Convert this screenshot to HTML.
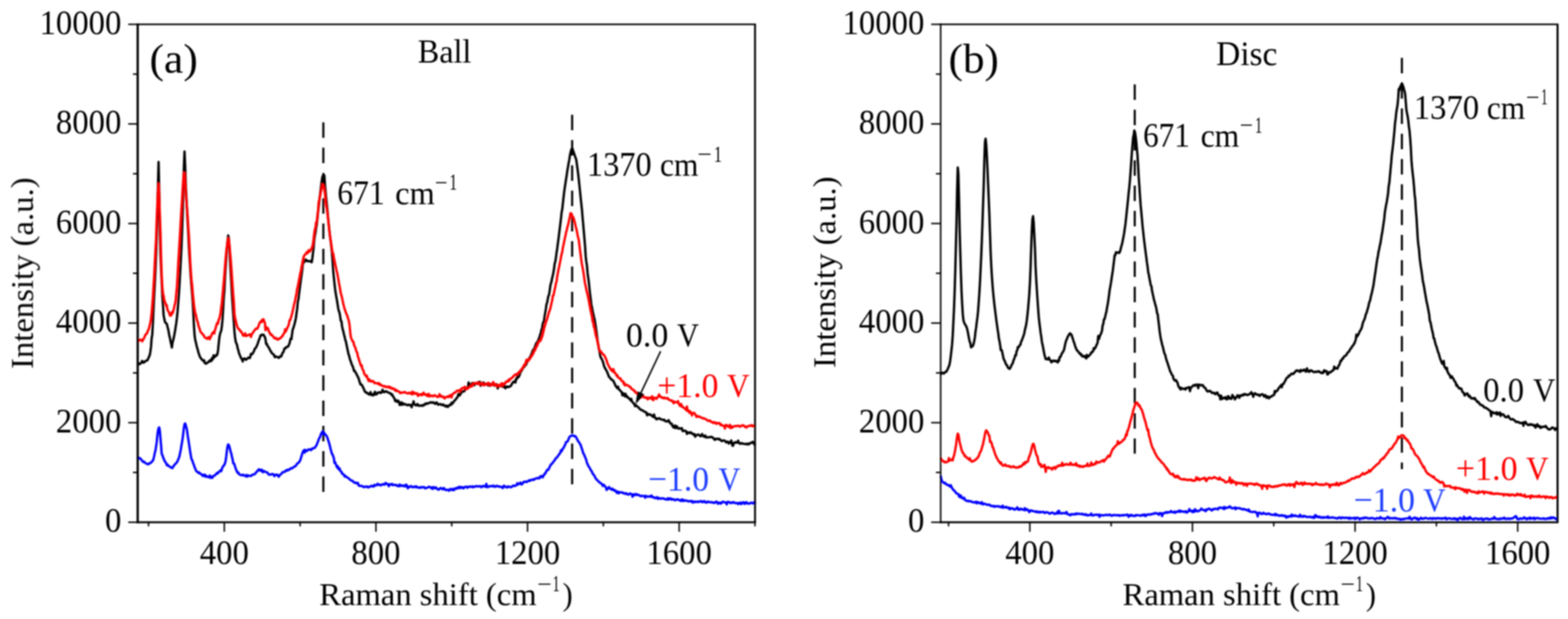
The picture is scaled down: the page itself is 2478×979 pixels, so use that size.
<!DOCTYPE html>
<html><head><meta charset="utf-8"><style>html,body{margin:0;padding:0;background:#fff;overflow:hidden}svg{display:block}</style></head><body>
<svg width="2478" height="979" viewBox="0 0 2478 979" font-family="'Liberation Serif','Times New Roman',serif" font-size="51.7" fill="#000">
<defs><filter id="bl" x="0" y="0" width="100%" height="100%" filterUnits="userSpaceOnUse"><feGaussianBlur stdDeviation="0.8"/></filter></defs>
<rect width="100%" height="100%" fill="#fff"/>
<g filter="url(#bl)">
<line x1="511.0" y1="193.5" x2="511.0" y2="779" stroke="#000" stroke-width="3.3" stroke-dasharray="24.5 15.5"/>
<line x1="904.2" y1="181.6" x2="904.2" y2="766" stroke="#000" stroke-width="3.3" stroke-dasharray="24.5 15.5"/>
<line x1="1793.3" y1="133.6" x2="1793.3" y2="717.6" stroke="#000" stroke-width="3.3" stroke-dasharray="24.5 15.5"/>
<line x1="2215.5" y1="91.6" x2="2215.5" y2="742" stroke="#000" stroke-width="3.3" stroke-dasharray="24.5 15.5"/>
<path d="M217.6,573.8 L218.6,575.0 L219.6,575.8 L220.6,576.1 L221.6,575.0 L222.6,574.2 L223.6,573.6 L224.6,570.8 L225.6,572.3 L226.6,573.6 L227.6,573.3 L228.6,572.0 L229.6,571.2 L230.6,570.7 L231.6,570.5 L232.6,570.0 L233.6,568.4 L234.6,566.2 L235.6,563.9 L236.6,561.9 L237.6,556.3 L238.6,549.2 L239.6,535.3 L240.6,529.7 L241.6,511.3 L242.6,489.1 L243.6,468.7 L244.6,450.0 L245.6,428.9 L246.6,404.5 L247.6,376.0 L248.6,341.9 L249.6,295.2 L250.6,256.2 L251.6,301.1 L252.6,365.1 L253.6,402.6 L254.6,425.1 L255.6,446.3 L256.6,468.8 L257.6,482.7 L258.6,498.8 L259.6,504.0 L260.6,508.5 L261.6,510.6 L262.6,511.1 L263.6,512.2 L264.6,516.4 L265.6,520.1 L266.6,525.0 L267.6,531.1 L268.6,534.7 L269.6,540.2 L270.6,544.4 L271.6,549.7 L272.6,542.1 L273.6,538.4 L274.6,534.3 L275.6,529.1 L276.6,523.7 L277.6,517.1 L278.6,510.6 L279.6,502.8 L280.6,492.7 L281.6,479.4 L282.6,466.6 L283.6,450.6 L284.6,432.6 L285.6,414.2 L286.6,394.7 L287.6,370.0 L288.6,339.6 L289.6,305.8 L290.6,264.6 L291.6,239.6 L292.6,261.9 L293.6,293.1 L294.6,313.1 L295.6,333.3 L296.6,352.6 L297.6,369.9 L298.6,392.4 L299.6,408.3 L300.6,424.9 L301.6,439.9 L302.6,451.9 L303.6,464.3 L304.6,477.3 L305.6,495.6 L306.6,517.0 L307.6,531.1 L308.6,538.0 L309.6,541.6 L310.6,546.4 L311.6,550.0 L312.6,553.5 L313.6,557.5 L314.6,560.4 L315.6,563.5 L316.6,565.4 L317.6,566.8 L318.6,568.0 L319.6,569.2 L320.6,570.2 L321.6,570.8 L322.6,569.8 L323.6,574.3 L324.6,574.2 L325.6,575.2 L326.6,574.5 L327.6,573.5 L328.6,573.4 L329.6,572.2 L330.6,571.0 L331.6,570.3 L332.6,571.5 L333.6,568.5 L334.6,570.4 L335.6,565.6 L336.6,567.8 L337.6,561.8 L338.6,565.2 L339.6,564.0 L340.6,563.4 L341.6,561.6 L342.6,562.1 L343.6,559.9 L344.6,554.0 L345.6,543.8 L346.6,534.4 L347.6,528.7 L348.6,525.5 L349.6,522.8 L350.6,516.4 L351.6,505.6 L352.6,489.5 L353.6,471.4 L354.6,460.2 L355.6,438.9 L356.6,422.2 L357.6,407.4 L358.6,391.9 L359.6,381.6 L360.6,372.4 L361.6,376.8 L362.6,393.4 L363.6,413.4 L364.6,430.6 L365.6,447.5 L366.6,466.3 L367.6,481.5 L368.6,496.7 L369.6,509.5 L370.6,525.4 L371.6,534.9 L372.6,540.7 L373.6,543.4 L374.6,545.4 L375.6,550.9 L376.6,553.8 L377.6,558.1 L378.6,560.7 L379.6,563.1 L380.6,565.7 L381.6,567.3 L382.6,568.1 L383.6,571.7 L384.6,567.6 L385.6,567.0 L386.6,567.1 L387.6,567.7 L388.6,569.0 L389.6,568.2 L390.6,567.3 L391.6,566.6 L392.6,565.5 L393.6,566.1 L394.6,566.4 L395.6,564.3 L396.6,559.7 L397.6,560.4 L398.6,560.0 L399.6,558.5 L400.6,556.8 L401.6,554.7 L402.6,551.6 L403.6,550.8 L404.6,549.6 L405.6,547.5 L406.6,545.2 L407.6,542.6 L408.6,539.3 L409.6,536.7 L410.6,534.5 L411.6,530.8 L412.6,530.1 L413.6,529.3 L414.6,530.1 L415.6,529.3 L416.6,529.6 L417.6,531.3 L418.6,533.1 L419.6,536.8 L420.6,544.0 L421.6,543.6 L422.6,546.7 L423.6,547.9 L424.6,549.6 L425.6,551.4 L426.6,553.2 L427.6,555.4 L428.6,556.4 L429.6,558.5 L430.6,559.5 L431.6,559.9 L432.6,560.8 L433.6,563.2 L434.6,565.0 L435.6,563.6 L436.6,564.3 L437.6,564.5 L438.6,564.7 L439.6,565.3 L440.6,566.1 L441.6,565.3 L442.6,563.7 L443.6,563.6 L444.6,563.6 L445.6,560.4 L446.6,558.0 L447.6,557.3 L448.6,554.5 L449.6,551.1 L450.6,551.2 L451.6,550.4 L452.6,548.8 L453.6,548.6 L454.6,548.5 L455.6,547.6 L456.6,545.1 L457.6,543.0 L458.6,538.0 L459.6,535.2 L460.6,536.4 L461.6,527.7 L462.6,521.2 L463.6,518.8 L464.6,515.5 L465.6,512.0 L466.6,507.8 L467.6,503.3 L468.6,495.4 L469.6,488.5 L470.6,477.1 L471.6,473.3 L472.6,464.6 L473.6,457.0 L474.6,449.5 L475.6,441.7 L476.6,434.4 L477.6,427.4 L478.6,416.4 L479.6,416.0 L480.6,414.3 L481.6,413.5 L482.6,410.3 L483.6,412.7 L484.6,411.6 L485.6,412.1 L486.6,413.4 L487.6,413.0 L488.6,413.0 L489.6,413.3 L490.6,413.6 L491.6,412.4 L492.6,414.8 L493.6,408.8 L494.6,400.0 L495.6,392.0 L496.6,379.3 L497.6,373.0 L498.6,367.4 L499.6,360.4 L500.6,354.8 L501.6,346.6 L502.6,335.2 L503.6,327.8 L504.6,317.9 L505.6,309.5 L506.6,301.1 L507.6,293.6 L508.6,285.5 L509.6,279.5 L510.6,277.7 L511.6,276.4 L512.6,277.9 L513.6,292.6 L514.6,303.8 L515.6,314.7 L516.6,324.2 L517.6,333.7 L518.6,345.8 L519.6,355.6 L520.6,365.5 L521.6,374.6 L522.6,381.2 L523.6,390.3 L524.6,399.9 L525.6,412.4 L526.6,428.3 L527.6,438.8 L528.6,448.5 L529.6,457.3 L530.6,464.2 L531.6,470.2 L532.6,475.4 L533.6,481.7 L534.6,488.1 L535.6,492.3 L536.6,494.7 L537.6,500.7 L538.6,507.5 L539.6,508.1 L540.6,516.1 L541.6,520.9 L542.6,524.2 L543.6,528.9 L544.6,532.7 L545.6,537.4 L546.6,540.0 L547.6,544.9 L548.6,549.8 L549.6,554.5 L550.6,559.3 L551.6,562.3 L552.6,566.3 L553.6,569.8 L554.6,572.3 L555.6,575.3 L556.6,577.9 L557.6,579.9 L558.6,583.0 L559.6,586.9 L560.6,586.5 L561.6,588.6 L562.6,589.9 L563.6,592.2 L564.6,594.0 L565.6,596.3 L566.6,598.0 L567.6,601.4 L568.6,604.6 L569.6,607.9 L570.6,607.7 L571.6,609.0 L572.6,609.9 L573.6,612.5 L574.6,614.3 L575.6,616.7 L576.6,619.4 L577.6,619.8 L578.6,621.1 L579.6,620.9 L580.6,622.2 L581.6,622.2 L582.6,623.6 L583.6,623.8 L584.6,623.7 L585.6,620.1 L586.6,624.8 L587.6,624.4 L588.6,624.2 L589.6,625.3 L590.6,622.6 L591.6,624.2 L592.6,619.6 L593.6,623.7 L594.6,623.6 L595.6,623.5 L596.6,621.6 L597.6,620.7 L598.6,620.8 L599.6,621.0 L600.6,620.3 L601.6,621.6 L602.6,620.9 L603.6,620.4 L604.6,616.3 L605.6,619.6 L606.6,620.2 L607.6,619.9 L608.6,619.9 L609.6,618.6 L610.6,619.5 L611.6,619.6 L612.6,620.2 L613.6,620.7 L614.6,621.3 L615.6,621.7 L616.6,621.9 L617.6,622.5 L618.6,624.5 L619.6,623.6 L620.6,626.0 L621.6,627.2 L622.6,629.3 L623.6,630.6 L624.6,634.5 L625.6,632.9 L626.6,633.7 L627.6,635.6 L628.6,633.5 L629.6,634.2 L630.6,635.3 L631.6,640.5 L632.6,638.7 L633.6,640.2 L634.6,636.4 L635.6,637.5 L636.6,640.2 L637.6,638.2 L638.6,639.2 L639.6,639.1 L640.6,639.7 L641.6,639.5 L642.6,640.5 L643.6,640.9 L644.6,640.4 L645.6,640.7 L646.6,640.0 L647.6,640.9 L648.6,640.7 L649.6,640.7 L650.6,644.2 L651.6,639.9 L652.6,639.3 L653.6,634.7 L654.6,639.3 L655.6,640.3 L656.6,640.3 L657.6,641.3 L658.6,640.9 L659.6,639.0 L660.6,640.2 L661.6,641.7 L662.6,641.5 L663.6,641.7 L664.6,641.3 L665.6,641.4 L666.6,641.0 L667.6,641.9 L668.6,641.2 L669.6,640.1 L670.6,640.6 L671.6,639.1 L672.6,638.2 L673.6,638.7 L674.6,638.0 L675.6,638.7 L676.6,637.8 L677.6,637.5 L678.6,637.2 L679.6,636.6 L680.6,636.1 L681.6,636.7 L682.6,636.9 L683.6,636.7 L684.6,636.2 L685.6,637.2 L686.6,637.9 L687.6,638.7 L688.6,637.7 L689.6,636.4 L690.6,637.1 L691.6,639.1 L692.6,640.0 L693.6,639.3 L694.6,639.4 L695.6,639.2 L696.6,639.2 L697.6,640.4 L698.6,640.7 L699.6,640.2 L700.6,639.7 L701.6,641.4 L702.6,641.4 L703.6,642.7 L704.6,642.7 L705.6,641.5 L706.6,643.2 L707.6,643.6 L708.6,642.6 L709.6,641.1 L710.6,640.5 L711.6,640.0 L712.6,640.5 L713.6,637.0 L714.6,638.5 L715.6,637.6 L716.6,636.2 L717.6,634.3 L718.6,633.6 L719.6,632.4 L720.6,631.2 L721.6,629.6 L722.6,628.8 L723.6,626.6 L724.6,622.8 L725.6,624.5 L726.6,625.3 L727.6,623.5 L728.6,621.6 L729.6,620.5 L730.6,619.9 L731.6,618.8 L732.6,619.0 L733.6,618.8 L734.6,616.8 L735.6,615.7 L736.6,615.6 L737.6,614.8 L738.6,612.7 L739.6,611.7 L740.6,604.8 L741.6,609.5 L742.6,611.5 L743.6,608.1 L744.6,610.5 L745.6,606.9 L746.6,605.6 L747.6,607.0 L748.6,606.3 L749.6,609.4 L750.6,607.0 L751.6,606.7 L752.6,605.8 L753.6,607.2 L754.6,606.7 L755.6,606.8 L756.6,604.2 L757.6,607.0 L758.6,604.0 L759.6,610.2 L760.6,607.3 L761.6,608.1 L762.6,606.3 L763.6,604.9 L764.6,605.5 L765.6,606.8 L766.6,606.9 L767.6,607.6 L768.6,607.2 L769.6,606.8 L770.6,609.2 L771.6,609.6 L772.6,608.9 L773.6,609.5 L774.6,610.0 L775.6,608.8 L776.6,607.2 L777.6,607.1 L778.6,608.2 L779.6,608.8 L780.6,609.5 L781.6,609.9 L782.6,609.1 L783.6,607.8 L784.6,607.6 L785.6,610.1 L786.6,614.4 L787.6,610.5 L788.6,610.6 L789.6,609.9 L790.6,610.6 L791.6,609.5 L792.6,609.5 L793.6,611.2 L794.6,611.6 L795.6,611.9 L796.6,612.1 L797.6,609.9 L798.6,614.2 L799.6,612.8 L800.6,612.1 L801.6,611.2 L802.6,612.3 L803.6,611.8 L804.6,611.8 L805.6,611.2 L806.6,611.0 L807.6,609.9 L808.6,607.9 L809.6,606.5 L810.6,604.4 L811.6,604.4 L812.6,603.5 L813.6,602.7 L814.6,605.0 L815.6,599.1 L816.6,599.5 L817.6,595.1 L818.6,596.7 L819.6,596.4 L820.6,594.3 L821.6,591.9 L822.6,588.5 L823.6,587.2 L824.6,585.9 L825.6,583.7 L826.6,582.1 L827.6,580.1 L828.6,580.2 L829.6,578.6 L830.6,577.4 L831.6,576.9 L832.6,571.7 L833.6,572.1 L834.6,569.7 L835.6,568.2 L836.6,566.6 L837.6,564.5 L838.6,563.2 L839.6,560.4 L840.6,558.2 L841.6,555.3 L842.6,553.1 L843.6,552.7 L844.6,550.9 L845.6,547.9 L846.6,545.1 L847.6,542.3 L848.6,541.8 L849.6,540.4 L850.6,538.0 L851.6,535.8 L852.6,532.9 L853.6,529.6 L854.6,526.9 L855.6,521.9 L856.6,519.8 L857.6,513.0 L858.6,509.4 L859.6,508.4 L860.6,500.8 L861.6,494.8 L862.6,489.0 L863.6,481.4 L864.6,478.8 L865.6,473.5 L866.6,468.4 L867.6,466.5 L868.6,460.5 L869.6,452.8 L870.6,448.1 L871.6,445.4 L872.6,439.6 L873.6,435.7 L874.6,431.0 L875.6,424.9 L876.6,416.9 L877.6,413.8 L878.6,407.2 L879.6,399.6 L880.6,393.1 L881.6,385.1 L882.6,377.9 L883.6,369.5 L884.6,361.4 L885.6,353.4 L886.6,345.0 L887.6,335.6 L888.6,330.7 L889.6,321.2 L890.6,312.3 L891.6,303.4 L892.6,296.5 L893.6,289.7 L894.6,283.4 L895.6,277.0 L896.6,269.9 L897.6,264.2 L898.6,258.3 L899.6,253.0 L900.6,246.5 L901.6,241.7 L902.6,237.5 L903.6,235.1 L904.6,234.7 L905.6,238.3 L906.6,240.7 L907.6,243.9 L908.6,246.7 L909.6,249.6 L910.6,252.4 L911.6,258.9 L912.6,266.6 L913.6,274.2 L914.6,282.8 L915.6,292.6 L916.6,302.1 L917.6,312.3 L918.6,321.8 L919.6,330.7 L920.6,343.1 L921.6,353.9 L922.6,365.5 L923.6,377.3 L924.6,388.8 L925.6,405.2 L926.6,414.0 L927.6,420.1 L928.6,432.0 L929.6,439.6 L930.6,446.8 L931.6,457.2 L932.6,466.1 L933.6,473.4 L934.6,482.4 L935.6,486.2 L936.6,492.6 L937.6,496.2 L938.6,500.9 L939.6,505.0 L940.6,510.8 L941.6,517.4 L942.6,524.5 L943.6,532.3 L944.6,540.6 L945.6,546.6 L946.6,552.3 L947.6,556.4 L948.6,562.6 L949.6,565.9 L950.6,567.0 L951.6,569.0 L952.6,571.6 L953.6,574.7 L954.6,578.8 L955.6,581.2 L956.6,583.1 L957.6,584.7 L958.6,586.6 L959.6,588.3 L960.6,591.2 L961.6,593.7 L962.6,596.3 L963.6,597.0 L964.6,598.0 L965.6,599.7 L966.6,600.4 L967.6,601.1 L968.6,601.7 L969.6,603.0 L970.6,605.1 L971.6,607.2 L972.6,609.7 L973.6,611.6 L974.6,612.3 L975.6,614.0 L976.6,611.4 L977.6,614.6 L978.6,616.5 L979.6,617.0 L980.6,618.1 L981.6,619.4 L982.6,620.6 L983.6,625.4 L984.6,621.7 L985.6,622.4 L986.6,624.1 L987.6,626.9 L988.6,622.9 L989.6,627.4 L990.6,626.6 L991.6,627.2 L992.6,629.4 L993.6,629.5 L994.6,630.3 L995.6,631.9 L996.6,633.2 L997.6,630.8 L998.6,634.9 L999.6,636.0 L1000.6,637.0 L1001.6,638.3 L1002.6,638.9 L1003.6,642.4 L1004.6,640.5 L1005.6,641.9 L1006.6,642.2 L1007.6,643.3 L1008.6,644.3 L1009.6,644.7 L1010.6,646.4 L1011.6,647.2 L1012.6,647.8 L1013.6,648.6 L1014.6,648.7 L1015.6,649.1 L1016.6,650.0 L1017.6,650.6 L1018.6,651.0 L1019.6,651.5 L1020.6,652.3 L1021.6,652.6 L1022.6,656.9 L1023.6,654.5 L1024.6,654.8 L1025.6,655.8 L1026.6,655.8 L1027.6,655.3 L1028.6,656.2 L1029.6,657.0 L1030.6,657.7 L1031.6,659.0 L1032.6,659.3 L1033.6,655.6 L1034.6,659.8 L1035.6,661.0 L1036.6,662.2 L1037.6,663.2 L1038.6,661.8 L1039.6,662.1 L1040.6,662.2 L1041.6,661.6 L1042.6,661.7 L1043.6,662.9 L1044.6,663.2 L1045.6,663.4 L1046.6,663.8 L1047.6,664.0 L1048.6,664.4 L1049.6,663.7 L1050.6,665.6 L1051.6,665.7 L1052.6,666.5 L1053.6,666.5 L1054.6,666.7 L1055.6,665.6 L1056.6,664.5 L1057.6,666.4 L1058.6,668.3 L1059.6,670.0 L1060.6,670.0 L1061.6,670.1 L1062.6,673.7 L1063.6,674.6 L1064.6,676.3 L1065.6,673.3 L1066.6,673.2 L1067.6,677.1 L1068.6,673.9 L1069.6,674.0 L1070.6,676.6 L1071.6,677.7 L1072.6,677.7 L1073.6,677.2 L1074.6,677.8 L1075.6,677.7 L1076.6,677.5 L1077.6,677.2 L1078.6,681.5 L1079.6,681.8 L1080.6,681.7 L1081.6,681.1 L1082.6,681.0 L1083.6,681.7 L1084.6,682.7 L1085.6,686.3 L1086.6,683.3 L1087.6,684.0 L1088.6,684.2 L1089.6,685.0 L1090.6,684.2 L1091.6,683.6 L1092.6,685.1 L1093.6,685.1 L1094.6,686.0 L1095.6,687.2 L1096.6,687.3 L1097.6,686.6 L1098.6,690.7 L1099.6,689.4 L1100.6,688.2 L1101.6,688.0 L1102.6,687.4 L1103.6,687.4 L1104.6,687.7 L1105.6,688.6 L1106.6,689.9 L1107.6,689.8 L1108.6,688.6 L1109.6,686.5 L1110.6,689.1 L1111.6,689.5 L1112.6,690.7 L1113.6,690.3 L1114.6,688.7 L1115.6,691.8 L1116.6,691.7 L1117.6,691.7 L1118.6,691.7 L1119.6,691.5 L1120.6,691.6 L1121.6,691.3 L1122.6,691.5 L1123.6,690.9 L1124.6,691.0 L1125.6,691.5 L1126.6,692.3 L1127.6,693.5 L1128.6,694.1 L1129.6,695.7 L1130.6,695.0 L1131.6,693.8 L1132.6,694.0 L1133.6,694.4 L1134.6,694.0 L1135.6,694.8 L1136.6,694.0 L1137.6,695.4 L1138.6,695.6 L1139.6,696.9 L1140.6,697.6 L1141.6,697.4 L1142.6,696.6 L1143.6,696.7 L1144.6,696.8 L1145.6,697.2 L1146.6,698.3 L1147.6,699.7 L1148.6,698.7 L1149.6,698.7 L1150.6,698.7 L1151.6,701.5 L1152.6,700.0 L1153.6,700.4 L1154.6,699.8 L1155.6,696.6 L1156.6,701.4 L1157.6,704.9 L1158.6,704.8 L1159.6,700.6 L1160.6,700.0 L1161.6,700.1 L1162.6,699.1 L1163.6,700.1 L1164.6,699.7 L1165.6,700.0 L1166.6,696.9 L1167.6,700.1 L1168.6,701.2 L1169.6,701.8 L1170.6,701.7 L1171.6,700.8 L1172.6,700.9 L1173.6,701.6 L1174.6,701.9 L1175.6,702.0 L1176.6,702.1 L1177.6,702.2 L1178.6,702.0 L1179.6,702.6 L1180.6,701.8 L1181.6,702.8 L1182.6,702.0 L1183.6,702.6 L1184.6,701.1 L1185.6,700.8 L1186.6,700.4 L1187.6,700.7 L1188.6,700.1 L1189.6,698.7 L1190.6,700.4 L1191.6,701.1 L1192.6,703.5 L1193.2,701.6" fill="none" stroke="#000" stroke-width="3.7" stroke-linejoin="round"/>
<path d="M217.6,539.1 L218.6,539.2 L219.6,538.9 L220.6,537.6 L221.6,537.4 L222.6,537.2 L223.6,537.5 L224.6,539.8 L225.6,538.2 L226.6,536.3 L227.6,534.9 L228.6,532.5 L229.6,530.0 L230.6,528.4 L231.6,528.1 L232.6,526.6 L233.6,523.2 L234.6,521.8 L235.6,518.6 L236.6,514.2 L237.6,510.1 L238.6,504.3 L239.6,495.1 L240.6,483.1 L241.6,470.5 L242.6,453.6 L243.6,437.0 L244.6,417.3 L245.6,396.9 L246.6,379.6 L247.6,349.8 L248.6,323.9 L249.6,302.9 L250.6,290.3 L251.6,308.5 L252.6,339.2 L253.6,366.6 L254.6,408.0 L255.6,437.4 L256.6,454.6 L257.6,464.4 L258.6,467.9 L259.6,474.4 L260.6,477.5 L261.6,479.5 L262.6,483.5 L263.6,482.7 L264.6,490.0 L265.6,491.6 L266.6,493.4 L267.6,495.2 L268.6,499.2 L269.6,499.0 L270.6,498.9 L271.6,493.5 L272.6,495.7 L273.6,492.7 L274.6,489.6 L275.6,484.0 L276.6,480.6 L277.6,475.1 L278.6,464.1 L279.6,454.5 L280.6,437.0 L281.6,417.8 L282.6,402.2 L283.6,384.9 L284.6,368.2 L285.6,350.5 L286.6,333.0 L287.6,317.5 L288.6,299.9 L289.6,283.8 L290.6,273.1 L291.6,273.5 L292.6,288.2 L293.6,305.8 L294.6,318.4 L295.6,330.1 L296.6,342.8 L297.6,359.1 L298.6,373.3 L299.6,391.9 L300.6,412.9 L301.6,428.7 L302.6,443.1 L303.6,450.5 L304.6,463.3 L305.6,473.3 L306.6,482.5 L307.6,489.9 L308.6,495.1 L309.6,497.8 L310.6,503.4 L311.6,507.6 L312.6,509.2 L313.6,515.0 L314.6,517.7 L315.6,520.6 L316.6,524.3 L317.6,525.8 L318.6,526.7 L319.6,527.6 L320.6,529.4 L321.6,529.8 L322.6,531.8 L323.6,533.6 L324.6,534.2 L325.6,534.7 L326.6,535.3 L327.6,535.9 L328.6,534.4 L329.6,533.0 L330.6,534.2 L331.6,536.5 L332.6,532.9 L333.6,532.4 L334.6,528.6 L335.6,527.6 L336.6,525.4 L337.6,526.8 L338.6,527.5 L339.6,522.2 L340.6,519.8 L341.6,515.7 L342.6,512.5 L343.6,510.3 L344.6,511.9 L345.6,505.4 L346.6,504.6 L347.6,499.7 L348.6,494.6 L349.6,486.2 L350.6,478.8 L351.6,468.3 L352.6,457.2 L353.6,445.9 L354.6,434.7 L355.6,421.0 L356.6,409.2 L357.6,397.7 L358.6,390.5 L359.6,382.0 L360.6,376.7 L361.6,378.5 L362.6,387.1 L363.6,398.8 L364.6,410.2 L365.6,423.2 L366.6,438.1 L367.6,452.2 L368.6,466.4 L369.6,478.0 L370.6,497.3 L371.6,503.4 L372.6,507.1 L373.6,511.7 L374.6,515.6 L375.6,518.4 L376.6,519.5 L377.6,520.6 L378.6,522.5 L379.6,522.4 L380.6,524.9 L381.6,524.8 L382.6,527.0 L383.6,529.3 L384.6,531.1 L385.6,529.5 L386.6,530.2 L387.6,527.2 L388.6,531.5 L389.6,531.4 L390.6,530.6 L391.6,530.3 L392.6,529.7 L393.6,529.6 L394.6,528.8 L395.6,528.8 L396.6,533.0 L397.6,529.3 L398.6,527.6 L399.6,526.7 L400.6,524.5 L401.6,523.4 L402.6,521.8 L403.6,520.9 L404.6,519.6 L405.6,519.6 L406.6,519.9 L407.6,518.0 L408.6,515.3 L409.6,512.4 L410.6,510.1 L411.6,509.3 L412.6,507.8 L413.6,509.4 L414.6,505.5 L415.6,505.2 L416.6,505.2 L417.6,508.9 L418.6,510.2 L419.6,522.4 L420.6,516.7 L421.6,519.7 L422.6,519.9 L423.6,519.3 L424.6,523.6 L425.6,525.1 L426.6,527.0 L427.6,529.3 L428.6,528.7 L429.6,529.8 L430.6,531.1 L431.6,532.1 L432.6,532.9 L433.6,535.2 L434.6,534.9 L435.6,534.6 L436.6,534.7 L437.6,536.8 L438.6,536.8 L439.6,537.1 L440.6,535.7 L441.6,535.8 L442.6,535.0 L443.6,534.5 L444.6,532.9 L445.6,532.8 L446.6,530.5 L447.6,529.7 L448.6,526.9 L449.6,526.6 L450.6,520.7 L451.6,524.2 L452.6,522.0 L453.6,519.7 L454.6,517.1 L455.6,515.8 L456.6,512.3 L457.6,506.4 L458.6,506.4 L459.6,502.9 L460.6,499.9 L461.6,496.0 L462.6,491.5 L463.6,487.5 L464.6,482.1 L465.6,478.3 L466.6,474.1 L467.6,468.9 L468.6,463.8 L469.6,456.4 L470.6,453.6 L471.6,447.8 L472.6,442.5 L473.6,437.3 L474.6,432.1 L475.6,427.6 L476.6,422.0 L477.6,417.4 L478.6,412.2 L479.6,407.4 L480.6,404.7 L481.6,403.0 L482.6,401.9 L483.6,401.7 L484.6,398.9 L485.6,400.7 L486.6,399.6 L487.6,395.9 L488.6,396.8 L489.6,397.9 L490.6,396.2 L491.6,393.7 L492.6,392.6 L493.6,390.0 L494.6,385.8 L495.6,377.8 L496.6,369.2 L497.6,362.8 L498.6,359.9 L499.6,351.3 L500.6,352.4 L501.6,341.0 L502.6,334.5 L503.6,319.7 L504.6,316.3 L505.6,311.5 L506.6,306.2 L507.6,300.9 L508.6,297.2 L509.6,291.3 L510.6,292.6 L511.6,294.5 L512.6,300.1 L513.6,307.0 L514.6,318.8 L515.6,326.2 L516.6,330.3 L517.6,338.7 L518.6,347.3 L519.6,357.0 L520.6,365.7 L521.6,373.3 L522.6,380.4 L523.6,386.5 L524.6,393.3 L525.6,399.9 L526.6,400.8 L527.6,407.5 L528.6,411.9 L529.6,416.8 L530.6,421.4 L531.6,426.6 L532.6,430.6 L533.6,435.4 L534.6,441.2 L535.6,447.0 L536.6,452.3 L537.6,457.8 L538.6,463.9 L539.6,467.1 L540.6,471.3 L541.6,476.1 L542.6,481.1 L543.6,484.6 L544.6,488.8 L545.6,491.3 L546.6,494.0 L547.6,497.2 L548.6,498.4 L549.6,502.5 L550.6,505.2 L551.6,508.9 L552.6,515.8 L553.6,527.0 L554.6,533.6 L555.6,536.2 L556.6,538.3 L557.6,540.6 L558.6,540.6 L559.6,546.1 L560.6,547.8 L561.6,550.1 L562.6,553.6 L563.6,556.5 L564.6,558.0 L565.6,563.9 L566.6,566.3 L567.6,569.9 L568.6,572.8 L569.6,575.9 L570.6,578.9 L571.6,577.6 L572.6,583.3 L573.6,584.9 L574.6,586.8 L575.6,591.0 L576.6,592.3 L577.6,593.7 L578.6,595.4 L579.6,594.0 L580.6,597.9 L581.6,599.9 L582.6,602.7 L583.6,599.9 L584.6,601.3 L585.6,602.7 L586.6,603.6 L587.6,602.8 L588.6,602.6 L589.6,602.8 L590.6,604.0 L591.6,606.0 L592.6,605.7 L593.6,605.6 L594.6,605.9 L595.6,606.5 L596.6,606.5 L597.6,607.3 L598.6,605.8 L599.6,607.8 L600.6,608.9 L601.6,608.0 L602.6,609.2 L603.6,609.7 L604.6,610.3 L605.6,610.8 L606.6,611.2 L607.6,610.5 L608.6,611.3 L609.6,611.7 L610.6,612.4 L611.6,611.6 L612.6,611.7 L613.6,611.7 L614.6,613.3 L615.6,611.7 L616.6,612.3 L617.6,613.8 L618.6,613.3 L619.6,615.0 L620.6,614.3 L621.6,615.0 L622.6,614.6 L623.6,616.2 L624.6,617.9 L625.6,616.3 L626.6,618.5 L627.6,618.0 L628.6,618.4 L629.6,618.5 L630.6,619.5 L631.6,620.7 L632.6,621.9 L633.6,621.0 L634.6,620.6 L635.6,620.9 L636.6,621.0 L637.6,621.0 L638.6,620.4 L639.6,619.8 L640.6,620.8 L641.6,621.2 L642.6,621.6 L643.6,622.0 L644.6,622.4 L645.6,621.7 L646.6,621.3 L647.6,621.0 L648.6,622.4 L649.6,622.6 L650.6,623.5 L651.6,619.4 L652.6,623.1 L653.6,622.9 L654.6,620.6 L655.6,622.3 L656.6,622.8 L657.6,622.7 L658.6,622.1 L659.6,622.2 L660.6,626.3 L661.6,624.3 L662.6,624.0 L663.6,624.0 L664.6,624.5 L665.6,623.2 L666.6,625.1 L667.6,623.2 L668.6,623.7 L669.6,621.0 L670.6,623.9 L671.6,624.4 L672.6,624.0 L673.6,624.9 L674.6,623.8 L675.6,626.6 L676.6,625.9 L677.6,622.9 L678.6,626.9 L679.6,626.5 L680.6,626.6 L681.6,625.4 L682.6,625.8 L683.6,626.0 L684.6,626.9 L685.6,625.6 L686.6,625.1 L687.6,625.4 L688.6,626.2 L689.6,626.3 L690.6,627.7 L691.6,627.8 L692.6,627.2 L693.6,626.9 L694.6,623.5 L695.6,627.0 L696.6,626.5 L697.6,626.2 L698.6,627.5 L699.6,628.0 L700.6,627.3 L701.6,628.6 L702.6,630.1 L703.6,629.1 L704.6,627.8 L705.6,627.8 L706.6,627.9 L707.6,626.9 L708.6,626.9 L709.6,627.9 L710.6,625.6 L711.6,626.3 L712.6,624.8 L713.6,628.6 L714.6,624.3 L715.6,623.5 L716.6,622.3 L717.6,621.3 L718.6,621.3 L719.6,620.5 L720.6,619.9 L721.6,618.4 L722.6,617.9 L723.6,617.7 L724.6,617.7 L725.6,617.6 L726.6,619.3 L727.6,616.5 L728.6,616.8 L729.6,614.4 L730.6,613.7 L731.6,613.7 L732.6,613.3 L733.6,613.6 L734.6,611.6 L735.6,614.5 L736.6,615.4 L737.6,614.7 L738.6,615.0 L739.6,613.4 L740.6,613.3 L741.6,612.6 L742.6,611.5 L743.6,611.4 L744.6,610.0 L745.6,611.3 L746.6,608.3 L747.6,607.9 L748.6,606.5 L749.6,605.6 L750.6,606.4 L751.6,606.4 L752.6,606.3 L753.6,606.1 L754.6,605.1 L755.6,606.3 L756.6,607.5 L757.6,605.7 L758.6,608.3 L759.6,606.8 L760.6,606.8 L761.6,605.9 L762.6,606.4 L763.6,608.4 L764.6,609.6 L765.6,607.8 L766.6,608.5 L767.6,607.7 L768.6,607.4 L769.6,607.4 L770.6,605.9 L771.6,608.1 L772.6,605.6 L773.6,607.4 L774.6,608.7 L775.6,609.6 L776.6,608.6 L777.6,608.1 L778.6,608.8 L779.6,604.2 L780.6,608.5 L781.6,607.3 L782.6,607.7 L783.6,609.8 L784.6,610.6 L785.6,610.3 L786.6,608.7 L787.6,609.5 L788.6,610.2 L789.6,608.8 L790.6,610.9 L791.6,609.9 L792.6,606.1 L793.6,609.9 L794.6,609.7 L795.6,606.6 L796.6,607.3 L797.6,606.3 L798.6,606.1 L799.6,603.4 L800.6,604.2 L801.6,603.4 L802.6,602.7 L803.6,600.6 L804.6,602.7 L805.6,599.7 L806.6,599.0 L807.6,599.1 L808.6,597.6 L809.6,597.2 L810.6,596.3 L811.6,594.6 L812.6,594.3 L813.6,592.8 L814.6,592.1 L815.6,592.1 L816.6,592.8 L817.6,591.5 L818.6,590.0 L819.6,588.9 L820.6,589.3 L821.6,586.6 L822.6,586.1 L823.6,585.2 L824.6,583.4 L825.6,582.2 L826.6,580.8 L827.6,578.7 L828.6,576.7 L829.6,577.7 L830.6,574.2 L831.6,570.3 L832.6,568.8 L833.6,570.6 L834.6,571.3 L835.6,568.3 L836.6,568.7 L837.6,567.4 L838.6,565.5 L839.6,563.4 L840.6,562.7 L841.6,561.0 L842.6,559.2 L843.6,556.8 L844.6,554.5 L845.6,554.1 L846.6,550.5 L847.6,549.2 L848.6,547.4 L849.6,545.0 L850.6,542.5 L851.6,540.3 L852.6,540.0 L853.6,539.3 L854.6,538.2 L855.6,534.9 L856.6,533.0 L857.6,529.4 L858.6,525.0 L859.6,520.8 L860.6,516.5 L861.6,513.9 L862.6,509.6 L863.6,507.5 L864.6,504.6 L865.6,500.6 L866.6,497.4 L867.6,493.5 L868.6,491.2 L869.6,488.5 L870.6,483.9 L871.6,479.1 L872.6,475.7 L873.6,467.8 L874.6,467.5 L875.6,462.8 L876.6,457.9 L877.6,453.7 L878.6,447.9 L879.6,445.3 L880.6,437.3 L881.6,431.9 L882.6,426.4 L883.6,422.1 L884.6,416.9 L885.6,412.3 L886.6,406.5 L887.6,401.9 L888.6,398.3 L889.6,391.3 L890.6,387.0 L891.6,382.1 L892.6,377.2 L893.6,372.9 L894.6,367.6 L895.6,364.2 L896.6,359.4 L897.6,356.2 L898.6,351.9 L899.6,347.0 L900.6,342.9 L901.6,337.1 L902.6,337.5 L903.6,338.8 L904.6,342.9 L905.6,343.0 L906.6,345.2 L907.6,348.7 L908.6,352.7 L909.6,357.2 L910.6,361.1 L911.6,365.4 L912.6,370.6 L913.6,375.5 L914.6,378.9 L915.6,386.9 L916.6,395.2 L917.6,402.8 L918.6,410.7 L919.6,417.6 L920.6,422.3 L921.6,428.2 L922.6,434.1 L923.6,441.9 L924.6,448.3 L925.6,452.6 L926.6,457.8 L927.6,462.0 L928.6,466.0 L929.6,470.8 L930.6,475.7 L931.6,481.4 L932.6,486.9 L933.6,492.3 L934.6,496.4 L935.6,501.3 L936.6,508.4 L937.6,510.9 L938.6,517.2 L939.6,519.5 L940.6,525.0 L941.6,530.4 L942.6,533.5 L943.6,537.3 L944.6,542.1 L945.6,545.4 L946.6,552.0 L947.6,554.3 L948.6,555.4 L949.6,555.7 L950.6,557.7 L951.6,558.6 L952.6,560.0 L953.6,560.7 L954.6,561.5 L955.6,563.5 L956.6,565.1 L957.6,567.5 L958.6,569.9 L959.6,573.1 L960.6,576.0 L961.6,578.0 L962.6,580.0 L963.6,581.6 L964.6,583.4 L965.6,584.9 L966.6,584.0 L967.6,587.2 L968.6,587.4 L969.6,584.0 L970.6,589.2 L971.6,589.0 L972.6,590.6 L973.6,592.3 L974.6,594.5 L975.6,593.3 L976.6,596.5 L977.6,597.5 L978.6,598.3 L979.6,598.5 L980.6,598.4 L981.6,601.7 L982.6,602.4 L983.6,602.8 L984.6,602.9 L985.6,607.0 L986.6,605.6 L987.6,609.6 L988.6,609.2 L989.6,608.4 L990.6,608.8 L991.6,609.3 L992.6,609.6 L993.6,610.9 L994.6,611.0 L995.6,612.3 L996.6,612.3 L997.6,614.6 L998.6,615.5 L999.6,615.8 L1000.6,616.2 L1001.6,617.5 L1002.6,618.9 L1003.6,618.7 L1004.6,621.2 L1005.6,621.2 L1006.6,622.1 L1007.6,623.1 L1008.6,625.0 L1009.6,626.5 L1010.6,627.3 L1011.6,628.5 L1012.6,628.9 L1013.6,626.2 L1014.6,625.7 L1015.6,626.6 L1016.6,627.8 L1017.6,627.4 L1018.6,628.8 L1019.6,628.7 L1020.6,628.9 L1021.6,629.4 L1022.6,628.7 L1023.6,631.6 L1024.6,630.6 L1025.6,629.2 L1026.6,628.7 L1027.6,629.4 L1028.6,629.9 L1029.6,631.1 L1030.6,626.7 L1031.6,629.1 L1032.6,633.0 L1033.6,629.7 L1034.6,629.0 L1035.6,629.7 L1036.6,629.7 L1037.6,630.9 L1038.6,628.7 L1039.6,627.6 L1040.6,627.1 L1041.6,623.8 L1042.6,626.7 L1043.6,627.7 L1044.6,627.3 L1045.6,628.3 L1046.6,629.4 L1047.6,629.3 L1048.6,629.7 L1049.6,628.6 L1050.6,629.9 L1051.6,629.7 L1052.6,630.0 L1053.6,630.3 L1054.6,629.4 L1055.6,630.0 L1056.6,631.7 L1057.6,632.4 L1058.6,633.0 L1059.6,633.1 L1060.6,633.7 L1061.6,633.1 L1062.6,635.0 L1063.6,635.6 L1064.6,637.8 L1065.6,635.0 L1066.6,636.2 L1067.6,636.2 L1068.6,636.0 L1069.6,636.1 L1070.6,636.8 L1071.6,634.5 L1072.6,638.3 L1073.6,640.0 L1074.6,641.8 L1075.6,641.4 L1076.6,638.9 L1077.6,643.3 L1078.6,642.9 L1079.6,644.4 L1080.6,645.0 L1081.6,645.2 L1082.6,646.7 L1083.6,647.3 L1084.6,648.7 L1085.6,642.8 L1086.6,649.9 L1087.6,650.2 L1088.6,649.4 L1089.6,653.0 L1090.6,650.7 L1091.6,651.8 L1092.6,653.0 L1093.6,657.1 L1094.6,653.7 L1095.6,653.5 L1096.6,652.8 L1097.6,653.6 L1098.6,655.2 L1099.6,656.9 L1100.6,659.3 L1101.6,657.6 L1102.6,658.1 L1103.6,659.3 L1104.6,658.6 L1105.6,659.1 L1106.6,659.3 L1107.6,660.2 L1108.6,660.7 L1109.6,661.3 L1110.6,661.6 L1111.6,661.2 L1112.6,661.9 L1113.6,662.0 L1114.6,662.6 L1115.6,663.3 L1116.6,663.9 L1117.6,664.1 L1118.6,665.5 L1119.6,665.7 L1120.6,665.7 L1121.6,665.0 L1122.6,665.8 L1123.6,667.2 L1124.6,667.0 L1125.6,668.1 L1126.6,668.2 L1127.6,669.1 L1128.6,667.6 L1129.6,668.1 L1130.6,668.3 L1131.6,670.2 L1132.6,670.3 L1133.6,669.1 L1134.6,669.2 L1135.6,668.8 L1136.6,669.8 L1137.6,669.5 L1138.6,672.3 L1139.6,671.3 L1140.6,672.1 L1141.6,673.1 L1142.6,673.2 L1143.6,673.5 L1144.6,673.5 L1145.6,677.8 L1146.6,672.9 L1147.6,671.9 L1148.6,673.2 L1149.6,673.0 L1150.6,674.8 L1151.6,675.1 L1152.6,675.1 L1153.6,672.0 L1154.6,677.1 L1155.6,674.3 L1156.6,674.6 L1157.6,676.3 L1158.6,674.5 L1159.6,674.4 L1160.6,674.0 L1161.6,673.8 L1162.6,674.0 L1163.6,673.7 L1164.6,673.9 L1165.6,673.4 L1166.6,673.2 L1167.6,673.4 L1168.6,674.6 L1169.6,674.8 L1170.6,674.6 L1171.6,673.5 L1172.6,672.8 L1173.6,672.5 L1174.6,672.9 L1175.6,673.0 L1176.6,674.9 L1177.6,674.6 L1178.6,674.8 L1179.6,676.2 L1180.6,674.6 L1181.6,674.4 L1182.6,673.7 L1183.6,673.8 L1184.6,673.4 L1185.6,673.4 L1186.6,673.4 L1187.6,672.4 L1188.6,672.5 L1189.6,674.4 L1190.6,673.6 L1191.6,673.5 L1192.6,673.0 L1193.2,674.7" fill="none" stroke="#ff0000" stroke-width="3.7" stroke-linejoin="round"/>
<path d="M217.6,723.1 L218.6,723.3 L219.6,724.7 L220.6,725.0 L221.6,724.9 L222.6,726.3 L223.6,727.1 L224.6,728.9 L225.6,729.5 L226.6,730.8 L227.6,730.1 L228.6,731.4 L229.6,732.0 L230.6,733.0 L231.6,733.2 L232.6,734.0 L233.6,733.6 L234.6,734.4 L235.6,733.4 L236.6,732.3 L237.6,732.1 L238.6,731.9 L239.6,730.7 L240.6,729.3 L241.6,728.7 L242.6,725.9 L243.6,721.6 L244.6,716.5 L245.6,713.1 L246.6,706.4 L247.6,699.8 L248.6,689.3 L249.6,681.7 L250.6,677.3 L251.6,675.9 L252.6,681.5 L253.6,693.3 L254.6,704.8 L255.6,718.1 L256.6,719.7 L257.6,722.7 L258.6,725.2 L259.6,727.8 L260.6,729.8 L261.6,731.2 L262.6,732.5 L263.6,735.6 L264.6,734.6 L265.6,736.7 L266.6,736.7 L267.6,737.5 L268.6,738.4 L269.6,739.1 L270.6,739.6 L271.6,740.0 L272.6,740.3 L273.6,737.8 L274.6,736.9 L275.6,735.4 L276.6,734.3 L277.6,733.2 L278.6,732.2 L279.6,731.0 L280.6,729.4 L281.6,726.6 L282.6,724.7 L283.6,721.7 L284.6,716.6 L285.6,711.6 L286.6,705.5 L287.6,699.8 L288.6,693.5 L289.6,685.6 L290.6,676.8 L291.6,670.7 L292.6,669.7 L293.6,672.4 L294.6,676.5 L295.6,680.4 L296.6,688.7 L297.6,694.8 L298.6,701.2 L299.6,707.9 L300.6,714.9 L301.6,720.7 L302.6,726.1 L303.6,727.4 L304.6,730.6 L305.6,733.5 L306.6,735.8 L307.6,739.1 L308.6,741.1 L309.6,743.9 L310.6,745.5 L311.6,746.1 L312.6,746.4 L313.6,748.1 L314.6,747.3 L315.6,748.5 L316.6,749.0 L317.6,749.8 L318.6,750.4 L319.6,751.4 L320.6,752.8 L321.6,751.0 L322.6,752.4 L323.6,750.6 L324.6,753.9 L325.6,752.1 L326.6,753.6 L327.6,753.7 L328.6,754.6 L329.6,754.7 L330.6,754.5 L331.6,751.9 L332.6,755.8 L333.6,753.9 L334.6,754.2 L335.6,755.8 L336.6,753.3 L337.6,752.6 L338.6,752.4 L339.6,751.9 L340.6,750.6 L341.6,749.7 L342.6,748.3 L343.6,749.0 L344.6,748.2 L345.6,746.2 L346.6,745.9 L347.6,745.2 L348.6,743.8 L349.6,745.3 L350.6,742.0 L351.6,739.1 L352.6,737.4 L353.6,736.4 L354.6,735.2 L355.6,732.5 L356.6,728.9 L357.6,721.5 L358.6,712.6 L359.6,705.8 L360.6,702.9 L361.6,703.7 L362.6,706.7 L363.6,710.4 L364.6,714.9 L365.6,717.5 L366.6,722.8 L367.6,726.5 L368.6,732.8 L369.6,732.6 L370.6,735.0 L371.6,738.2 L372.6,741.5 L373.6,743.6 L374.6,746.3 L375.6,747.7 L376.6,747.2 L377.6,749.7 L378.6,750.4 L379.6,750.9 L380.6,751.2 L381.6,751.6 L382.6,751.6 L383.6,750.8 L384.6,750.8 L385.6,752.2 L386.6,752.4 L387.6,752.6 L388.6,753.2 L389.6,751.1 L390.6,753.8 L391.6,752.8 L392.6,751.9 L393.6,752.4 L394.6,752.7 L395.6,752.5 L396.6,752.8 L397.6,752.0 L398.6,751.0 L399.6,750.5 L400.6,750.4 L401.6,750.4 L402.6,749.8 L403.6,748.8 L404.6,747.3 L405.6,746.5 L406.6,745.0 L407.6,744.1 L408.6,742.4 L409.6,743.7 L410.6,742.6 L411.6,743.9 L412.6,745.0 L413.6,742.9 L414.6,743.8 L415.6,747.0 L416.6,745.0 L417.6,745.3 L418.6,745.6 L419.6,746.4 L420.6,746.7 L421.6,747.0 L422.6,747.2 L423.6,748.9 L424.6,750.6 L425.6,750.7 L426.6,750.5 L427.6,750.4 L428.6,750.7 L429.6,749.8 L430.6,749.6 L431.6,750.1 L432.6,750.6 L433.6,753.1 L434.6,750.9 L435.6,751.2 L436.6,751.1 L437.6,750.4 L438.6,752.1 L439.6,751.9 L440.6,754.0 L441.6,751.6 L442.6,750.9 L443.6,750.6 L444.6,749.4 L445.6,748.1 L446.6,747.1 L447.6,746.4 L448.6,746.6 L449.6,746.3 L450.6,745.8 L451.6,744.1 L452.6,744.3 L453.6,743.2 L454.6,744.2 L455.6,742.8 L456.6,742.9 L457.6,742.8 L458.6,741.3 L459.6,740.5 L460.6,740.5 L461.6,740.8 L462.6,740.1 L463.6,739.2 L464.6,738.2 L465.6,737.7 L466.6,737.7 L467.6,736.3 L468.6,734.8 L469.6,733.5 L470.6,732.5 L471.6,731.8 L472.6,731.2 L473.6,729.6 L474.6,727.4 L475.6,724.2 L476.6,721.0 L477.6,717.8 L478.6,714.9 L479.6,712.9 L480.6,711.9 L481.6,715.9 L482.6,711.5 L483.6,712.9 L484.6,713.2 L485.6,713.0 L486.6,711.8 L487.6,710.7 L488.6,711.0 L489.6,711.1 L490.6,710.6 L491.6,712.0 L492.6,710.3 L493.6,709.2 L494.6,709.5 L495.6,709.0 L496.6,708.4 L497.6,708.2 L498.6,706.7 L499.6,704.8 L500.6,703.4 L501.6,700.5 L502.6,698.3 L503.6,695.0 L504.6,693.0 L505.6,691.4 L506.6,688.6 L507.6,685.7 L508.6,684.2 L509.6,682.8 L510.6,685.9 L511.6,685.0 L512.6,684.7 L513.6,686.9 L514.6,687.9 L515.6,688.6 L516.6,690.5 L517.6,692.8 L518.6,696.2 L519.6,698.9 L520.6,702.5 L521.6,706.5 L522.6,710.8 L523.6,714.3 L524.6,717.9 L525.6,718.9 L526.6,721.6 L527.6,724.8 L528.6,732.1 L529.6,731.0 L530.6,734.1 L531.6,736.2 L532.6,739.3 L533.6,737.1 L534.6,741.1 L535.6,742.5 L536.6,740.7 L537.6,744.2 L538.6,745.6 L539.6,746.2 L540.6,749.2 L541.6,749.2 L542.6,750.3 L543.6,751.1 L544.6,753.5 L545.6,752.4 L546.6,754.0 L547.6,754.2 L548.6,754.9 L549.6,755.6 L550.6,756.1 L551.6,757.3 L552.6,758.0 L553.6,759.0 L554.6,759.5 L555.6,760.1 L556.6,760.3 L557.6,760.9 L558.6,762.3 L559.6,763.2 L560.6,763.0 L561.6,763.8 L562.6,763.4 L563.6,764.4 L564.6,764.8 L565.6,763.7 L566.6,767.2 L567.6,768.4 L568.6,768.2 L569.6,768.4 L570.6,768.5 L571.6,768.4 L572.6,769.2 L573.6,769.4 L574.6,770.3 L575.6,770.5 L576.6,769.6 L577.6,769.6 L578.6,769.7 L579.6,769.9 L580.6,769.5 L581.6,770.8 L582.6,770.8 L583.6,769.8 L584.6,769.7 L585.6,769.3 L586.6,768.4 L587.6,768.3 L588.6,769.3 L589.6,769.6 L590.6,769.5 L591.6,766.8 L592.6,767.3 L593.6,767.8 L594.6,767.5 L595.6,766.8 L596.6,765.1 L597.6,766.8 L598.6,766.3 L599.6,766.7 L600.6,766.6 L601.6,767.7 L602.6,766.8 L603.6,766.7 L604.6,765.9 L605.6,765.7 L606.6,766.3 L607.6,766.6 L608.6,764.7 L609.6,763.7 L610.6,765.1 L611.6,765.4 L612.6,766.5 L613.6,765.8 L614.6,769.0 L615.6,766.2 L616.6,766.3 L617.6,766.3 L618.6,765.5 L619.6,765.3 L620.6,767.3 L621.6,766.8 L622.6,766.7 L623.6,766.8 L624.6,767.3 L625.6,767.5 L626.6,767.0 L627.6,768.3 L628.6,768.6 L629.6,769.2 L630.6,768.4 L631.6,766.3 L632.6,768.7 L633.6,767.6 L634.6,767.9 L635.6,768.1 L636.6,768.7 L637.6,767.6 L638.6,768.9 L639.6,768.8 L640.6,769.3 L641.6,766.4 L642.6,767.0 L643.6,769.7 L644.6,772.3 L645.6,769.7 L646.6,770.0 L647.6,770.2 L648.6,769.3 L649.6,768.7 L650.6,769.9 L651.6,770.5 L652.6,770.7 L653.6,770.3 L654.6,769.4 L655.6,769.8 L656.6,770.5 L657.6,769.1 L658.6,769.8 L659.6,771.0 L660.6,770.8 L661.6,771.3 L662.6,771.4 L663.6,770.7 L664.6,771.3 L665.6,770.4 L666.6,770.9 L667.6,770.7 L668.6,770.6 L669.6,770.2 L670.6,770.6 L671.6,772.3 L672.6,771.9 L673.6,771.9 L674.6,771.6 L675.6,771.1 L676.6,770.6 L677.6,769.8 L678.6,770.2 L679.6,770.3 L680.6,771.1 L681.6,772.0 L682.6,771.0 L683.6,773.4 L684.6,770.3 L685.6,770.9 L686.6,771.9 L687.6,772.3 L688.6,770.6 L689.6,771.8 L690.6,773.2 L691.6,773.5 L692.6,774.3 L693.6,774.4 L694.6,772.8 L695.6,772.7 L696.6,771.7 L697.6,772.1 L698.6,773.0 L699.6,774.1 L700.6,773.3 L701.6,771.8 L702.6,773.9 L703.6,773.9 L704.6,775.2 L705.6,775.1 L706.6,774.6 L707.6,774.5 L708.6,775.2 L709.6,776.2 L710.6,774.4 L711.6,773.3 L712.6,774.4 L713.6,774.6 L714.6,775.1 L715.6,773.0 L716.6,775.0 L717.6,775.2 L718.6,773.4 L719.6,772.3 L720.6,771.8 L721.6,773.1 L722.6,771.4 L723.6,771.9 L724.6,771.9 L725.6,769.8 L726.6,772.0 L727.6,771.9 L728.6,770.4 L729.6,770.3 L730.6,770.7 L731.6,772.1 L732.6,772.3 L733.6,770.5 L734.6,770.5 L735.6,769.9 L736.6,769.7 L737.6,770.2 L738.6,771.5 L739.6,770.2 L740.6,770.2 L741.6,769.3 L742.6,770.0 L743.6,769.8 L744.6,769.7 L745.6,770.0 L746.6,769.1 L747.6,770.7 L748.6,770.2 L749.6,769.7 L750.6,769.8 L751.6,769.1 L752.6,768.7 L753.6,769.1 L754.6,769.4 L755.6,769.3 L756.6,769.1 L757.6,769.2 L758.6,768.9 L759.6,769.4 L760.6,770.7 L761.6,769.8 L762.6,768.9 L763.6,768.3 L764.6,769.3 L765.6,769.1 L766.6,768.7 L767.6,770.1 L768.6,765.2 L769.6,769.4 L770.6,770.7 L771.6,769.6 L772.6,769.4 L773.6,769.3 L774.6,768.6 L775.6,769.0 L776.6,768.8 L777.6,769.1 L778.6,768.9 L779.6,768.0 L780.6,769.6 L781.6,769.3 L782.6,769.9 L783.6,768.9 L784.6,768.3 L785.6,768.9 L786.6,768.7 L787.6,769.5 L788.6,769.2 L789.6,770.0 L790.6,769.7 L791.6,770.0 L792.6,770.3 L793.6,770.4 L794.6,772.0 L795.6,768.6 L796.6,768.2 L797.6,769.0 L798.6,769.8 L799.6,770.6 L800.6,770.4 L801.6,771.0 L802.6,769.6 L803.6,769.2 L804.6,770.0 L805.6,770.0 L806.6,770.4 L807.6,770.7 L808.6,770.1 L809.6,769.0 L810.6,768.4 L811.6,767.9 L812.6,768.7 L813.6,768.3 L814.6,768.2 L815.6,767.4 L816.6,767.2 L817.6,764.2 L818.6,766.2 L819.6,765.4 L820.6,765.3 L821.6,764.3 L822.6,763.1 L823.6,766.0 L824.6,766.2 L825.6,764.8 L826.6,763.9 L827.6,762.0 L828.6,761.9 L829.6,762.1 L830.6,761.6 L831.6,762.2 L832.6,762.4 L833.6,761.2 L834.6,761.1 L835.6,760.3 L836.6,759.5 L837.6,760.5 L838.6,759.2 L839.6,759.2 L840.6,758.8 L841.6,758.7 L842.6,758.1 L843.6,759.0 L844.6,757.9 L845.6,757.3 L846.6,756.8 L847.6,756.3 L848.6,756.4 L849.6,756.7 L850.6,756.2 L851.6,755.4 L852.6,756.5 L853.6,753.8 L854.6,753.1 L855.6,753.8 L856.6,752.9 L857.6,755.1 L858.6,752.0 L859.6,751.8 L860.6,749.3 L861.6,749.2 L862.6,746.9 L863.6,745.4 L864.6,743.2 L865.6,743.1 L866.6,743.0 L867.6,740.7 L868.6,738.6 L869.6,736.5 L870.6,734.8 L871.6,734.3 L872.6,732.7 L873.6,731.6 L874.6,730.7 L875.6,729.0 L876.6,727.5 L877.6,726.3 L878.6,724.4 L879.6,724.0 L880.6,723.0 L881.6,721.3 L882.6,720.1 L883.6,718.3 L884.6,717.7 L885.6,715.2 L886.6,712.1 L887.6,713.7 L888.6,711.3 L889.6,709.5 L890.6,708.3 L891.6,706.4 L892.6,704.4 L893.6,702.2 L894.6,699.0 L895.6,698.9 L896.6,698.4 L897.6,696.8 L898.6,694.6 L899.6,691.6 L900.6,690.4 L901.6,690.0 L902.6,689.0 L903.6,688.9 L904.6,688.9 L905.6,688.9 L906.6,689.2 L907.6,689.9 L908.6,689.4 L909.6,690.6 L910.6,691.6 L911.6,693.7 L912.6,695.7 L913.6,697.7 L914.6,699.1 L915.6,699.9 L916.6,702.3 L917.6,703.6 L918.6,706.9 L919.6,709.8 L920.6,712.6 L921.6,716.7 L922.6,717.9 L923.6,720.2 L924.6,722.7 L925.6,725.1 L926.6,727.9 L927.6,732.4 L928.6,733.9 L929.6,736.8 L930.6,737.8 L931.6,739.6 L932.6,741.4 L933.6,743.5 L934.6,744.7 L935.6,746.4 L936.6,749.0 L937.6,750.2 L938.6,751.3 L939.6,753.0 L940.6,754.9 L941.6,757.1 L942.6,758.0 L943.6,759.2 L944.6,760.1 L945.6,761.2 L946.6,762.2 L947.6,762.8 L948.6,764.0 L949.6,764.3 L950.6,765.3 L951.6,765.8 L952.6,768.5 L953.6,766.6 L954.6,767.2 L955.6,768.7 L956.6,769.6 L957.6,770.9 L958.6,774.9 L959.6,773.4 L960.6,772.3 L961.6,771.7 L962.6,770.2 L963.6,772.8 L964.6,772.9 L965.6,773.5 L966.6,774.3 L967.6,772.8 L968.6,774.9 L969.6,775.3 L970.6,774.6 L971.6,776.3 L972.6,775.9 L973.6,776.7 L974.6,779.5 L975.6,777.6 L976.6,777.8 L977.6,780.2 L978.6,778.2 L979.6,779.1 L980.6,779.0 L981.6,778.8 L982.6,778.4 L983.6,779.1 L984.6,779.9 L985.6,779.6 L986.6,780.7 L987.6,780.7 L988.6,781.0 L989.6,780.0 L990.6,781.3 L991.6,781.9 L992.6,781.6 L993.6,782.3 L994.6,781.2 L995.6,780.4 L996.6,780.7 L997.6,781.4 L998.6,781.8 L999.6,785.7 L1000.6,781.9 L1001.6,782.1 L1002.6,783.2 L1003.6,782.4 L1004.6,781.1 L1005.6,782.6 L1006.6,782.0 L1007.6,783.0 L1008.6,782.3 L1009.6,782.9 L1010.6,783.4 L1011.6,784.3 L1012.6,784.8 L1013.6,784.4 L1014.6,784.3 L1015.6,784.2 L1016.6,784.4 L1017.6,784.7 L1018.6,784.5 L1019.6,787.2 L1020.6,784.1 L1021.6,785.1 L1022.6,785.5 L1023.6,785.3 L1024.6,785.4 L1025.6,785.5 L1026.6,784.9 L1027.6,785.0 L1028.6,785.7 L1029.6,783.7 L1030.6,785.9 L1031.6,786.5 L1032.6,786.4 L1033.6,786.4 L1034.6,787.8 L1035.6,787.4 L1036.6,787.6 L1037.6,787.8 L1038.6,786.2 L1039.6,788.8 L1040.6,788.9 L1041.6,787.7 L1042.6,788.2 L1043.6,788.4 L1044.6,788.9 L1045.6,788.3 L1046.6,788.2 L1047.6,788.0 L1048.6,788.4 L1049.6,789.1 L1050.6,789.3 L1051.6,789.2 L1052.6,789.9 L1053.6,790.2 L1054.6,789.3 L1055.6,788.0 L1056.6,790.2 L1057.6,788.7 L1058.6,789.4 L1059.6,788.2 L1060.6,788.6 L1061.6,790.4 L1062.6,789.8 L1063.6,789.4 L1064.6,789.7 L1065.6,790.2 L1066.6,791.4 L1067.6,790.8 L1068.6,790.3 L1069.6,789.7 L1070.6,790.1 L1071.6,789.9 L1072.6,790.4 L1073.6,791.3 L1074.6,791.2 L1075.6,791.8 L1076.6,792.3 L1077.6,789.8 L1078.6,792.0 L1079.6,792.4 L1080.6,790.6 L1081.6,792.0 L1082.6,791.9 L1083.6,791.8 L1084.6,791.6 L1085.6,791.9 L1086.6,792.4 L1087.6,793.1 L1088.6,792.9 L1089.6,792.4 L1090.6,792.8 L1091.6,793.0 L1092.6,792.1 L1093.6,792.6 L1094.6,794.9 L1095.6,793.4 L1096.6,793.3 L1097.6,794.2 L1098.6,793.1 L1099.6,793.9 L1100.6,793.9 L1101.6,793.4 L1102.6,793.1 L1103.6,794.1 L1104.6,793.7 L1105.6,793.0 L1106.6,793.1 L1107.6,792.4 L1108.6,792.7 L1109.6,794.3 L1110.6,794.0 L1111.6,793.6 L1112.6,792.4 L1113.6,793.9 L1114.6,793.5 L1115.6,795.0 L1116.6,794.8 L1117.6,794.6 L1118.6,793.2 L1119.6,793.6 L1120.6,794.1 L1121.6,794.2 L1122.6,794.3 L1123.6,794.4 L1124.6,794.0 L1125.6,794.7 L1126.6,795.1 L1127.6,794.8 L1128.6,795.4 L1129.6,795.4 L1130.6,793.9 L1131.6,793.6 L1132.6,793.4 L1133.6,794.5 L1134.6,796.8 L1135.6,795.3 L1136.6,795.2 L1137.6,794.8 L1138.6,796.4 L1139.6,796.4 L1140.6,795.0 L1141.6,793.9 L1142.6,793.3 L1143.6,794.0 L1144.6,794.3 L1145.6,794.7 L1146.6,794.7 L1147.6,795.4 L1148.6,797.7 L1149.6,793.9 L1150.6,793.7 L1151.6,794.0 L1152.6,794.5 L1153.6,794.6 L1154.6,795.8 L1155.6,794.9 L1156.6,794.9 L1157.6,795.2 L1158.6,794.2 L1159.6,794.2 L1160.6,795.3 L1161.6,795.7 L1162.6,795.5 L1163.6,795.9 L1164.6,795.4 L1165.6,795.5 L1166.6,797.3 L1167.6,796.1 L1168.6,795.9 L1169.6,794.7 L1170.6,797.0 L1171.6,797.2 L1172.6,796.0 L1173.6,794.4 L1174.6,794.5 L1175.6,794.9 L1176.6,797.1 L1177.6,794.8 L1178.6,795.9 L1179.6,794.1 L1180.6,795.6 L1181.6,796.5 L1182.6,796.3 L1183.6,796.5 L1184.6,796.7 L1185.6,795.8 L1186.6,795.0 L1187.6,795.0 L1188.6,795.0 L1189.6,796.2 L1190.6,795.9 L1191.6,796.0 L1192.6,793.7 L1193.2,796.7" fill="none" stroke="#0000ff" stroke-width="3.7" stroke-linejoin="round"/>
<path d="M1486.6,592.7 L1487.6,590.8 L1488.6,589.5 L1489.6,589.5 L1490.6,589.9 L1491.6,590.7 L1492.6,589.5 L1493.6,588.4 L1494.6,588.4 L1495.6,587.9 L1496.6,585.8 L1497.6,584.1 L1498.6,581.6 L1499.6,579.3 L1500.6,576.4 L1501.6,570.7 L1502.6,563.1 L1503.6,554.3 L1504.6,545.2 L1505.6,531.4 L1506.6,511.1 L1507.6,490.2 L1508.6,463.7 L1509.6,430.6 L1510.6,391.6 L1511.6,352.5 L1512.6,299.8 L1513.6,264.8 L1514.6,274.6 L1515.6,315.3 L1516.6,364.7 L1517.6,400.1 L1518.6,433.2 L1519.6,462.0 L1520.6,481.3 L1521.6,497.7 L1522.6,506.6 L1523.6,510.0 L1524.6,512.2 L1525.6,513.7 L1526.6,515.5 L1527.6,517.6 L1528.6,520.8 L1529.6,525.6 L1530.6,531.3 L1531.6,536.4 L1532.6,540.6 L1533.6,543.0 L1534.6,549.4 L1535.6,547.8 L1536.6,547.9 L1537.6,546.8 L1538.6,544.0 L1539.6,539.3 L1540.6,534.0 L1541.6,524.7 L1542.6,518.3 L1543.6,509.9 L1544.6,502.4 L1545.6,493.1 L1546.6,479.8 L1547.6,465.3 L1548.6,448.7 L1549.6,427.5 L1550.6,406.3 L1551.6,381.9 L1552.6,354.8 L1553.6,323.8 L1554.6,294.2 L1555.6,254.6 L1556.6,225.2 L1557.6,219.3 L1558.6,228.9 L1559.6,246.4 L1560.6,267.9 L1561.6,292.4 L1562.6,316.0 L1563.6,340.8 L1564.6,371.0 L1565.6,400.3 L1566.6,421.4 L1567.6,437.8 L1568.6,451.8 L1569.6,463.4 L1570.6,473.5 L1571.6,482.8 L1572.6,490.7 L1573.6,498.7 L1574.6,506.8 L1575.6,513.8 L1576.6,520.9 L1577.6,527.2 L1578.6,535.5 L1579.6,539.8 L1580.6,545.9 L1581.6,553.7 L1582.6,553.2 L1583.6,555.5 L1584.6,560.4 L1585.6,565.5 L1586.6,568.9 L1587.6,570.4 L1588.6,572.7 L1589.6,575.6 L1590.6,577.4 L1591.6,577.8 L1592.6,580.8 L1593.6,582.0 L1594.6,583.0 L1595.6,583.4 L1596.6,581.7 L1597.6,580.0 L1598.6,577.4 L1599.6,575.8 L1600.6,574.3 L1601.6,570.2 L1602.6,568.2 L1603.6,565.1 L1604.6,561.6 L1605.6,562.0 L1606.6,555.5 L1607.6,553.9 L1608.6,548.9 L1609.6,549.7 L1610.6,547.6 L1611.6,545.8 L1612.6,545.3 L1613.6,540.9 L1614.6,538.8 L1615.6,536.5 L1616.6,533.5 L1617.6,530.9 L1618.6,527.8 L1619.6,522.4 L1620.6,518.3 L1621.6,514.3 L1622.6,507.5 L1623.6,499.3 L1624.6,489.5 L1625.6,478.1 L1626.6,465.8 L1627.6,448.7 L1628.6,424.4 L1629.6,393.0 L1630.6,365.7 L1631.6,346.8 L1632.6,341.9 L1633.6,352.0 L1634.6,372.4 L1635.6,392.8 L1636.6,422.4 L1637.6,442.1 L1638.6,458.0 L1639.6,473.5 L1640.6,488.2 L1641.6,501.2 L1642.6,510.6 L1643.6,518.3 L1644.6,526.7 L1645.6,532.5 L1646.6,540.8 L1647.6,545.2 L1648.6,550.4 L1649.6,555.9 L1650.6,560.9 L1651.6,564.6 L1652.6,568.0 L1653.6,567.6 L1654.6,567.7 L1655.6,568.3 L1656.6,567.7 L1657.6,565.4 L1658.6,569.1 L1659.6,569.4 L1660.6,570.3 L1661.6,573.1 L1662.6,571.1 L1663.6,570.9 L1664.6,571.1 L1665.6,570.1 L1666.6,571.2 L1667.6,571.4 L1668.6,570.7 L1669.6,571.1 L1670.6,572.2 L1671.6,573.2 L1672.6,569.5 L1673.6,570.6 L1674.6,564.7 L1675.6,564.8 L1676.6,562.8 L1677.6,560.2 L1678.6,558.3 L1679.6,556.9 L1680.6,555.3 L1681.6,553.0 L1682.6,548.2 L1683.6,543.3 L1684.6,539.7 L1685.6,537.0 L1686.6,534.9 L1687.6,532.0 L1688.6,530.9 L1689.6,528.8 L1690.6,527.4 L1691.6,527.4 L1692.6,529.0 L1693.6,529.7 L1694.6,533.5 L1695.6,536.1 L1696.6,539.9 L1697.6,542.1 L1698.6,545.6 L1699.6,548.7 L1700.6,551.0 L1701.6,553.6 L1702.6,554.6 L1703.6,555.5 L1704.6,557.0 L1705.6,558.3 L1706.6,559.5 L1707.6,559.2 L1708.6,561.9 L1709.6,561.5 L1710.6,563.6 L1711.6,564.0 L1712.6,563.2 L1713.6,562.9 L1714.6,564.9 L1715.6,564.2 L1716.6,566.9 L1717.6,561.2 L1718.6,564.5 L1719.6,564.1 L1720.6,562.8 L1721.6,562.1 L1722.6,560.9 L1723.6,559.8 L1724.6,557.3 L1725.6,557.5 L1726.6,555.8 L1727.6,555.3 L1728.6,550.6 L1729.6,552.0 L1730.6,550.5 L1731.6,548.9 L1732.6,546.3 L1733.6,544.4 L1734.6,541.9 L1735.6,531.3 L1736.6,536.4 L1737.6,533.6 L1738.6,530.1 L1739.6,528.7 L1740.6,526.0 L1741.6,522.9 L1742.6,514.5 L1743.6,512.3 L1744.6,505.2 L1745.6,504.8 L1746.6,500.4 L1747.6,496.4 L1748.6,492.5 L1749.6,486.2 L1750.6,481.2 L1751.6,474.5 L1752.6,467.2 L1753.6,459.2 L1754.6,453.7 L1755.6,448.0 L1756.6,441.4 L1757.6,434.6 L1758.6,428.3 L1759.6,420.0 L1760.6,412.2 L1761.6,403.5 L1762.6,403.6 L1763.6,399.0 L1764.6,399.7 L1765.6,399.6 L1766.6,399.2 L1767.6,399.8 L1768.6,400.1 L1769.6,398.6 L1770.6,395.8 L1771.6,391.5 L1772.6,388.0 L1773.6,384.2 L1774.6,379.2 L1775.6,374.0 L1776.6,368.3 L1777.6,361.2 L1778.6,354.4 L1779.6,344.9 L1780.6,335.5 L1781.6,326.0 L1782.6,316.5 L1783.6,305.9 L1784.6,297.1 L1785.6,286.3 L1786.6,273.4 L1787.6,258.7 L1788.6,243.5 L1789.6,231.5 L1790.6,218.5 L1791.6,213.9 L1792.6,206.4 L1793.6,208.7 L1794.6,214.8 L1795.6,223.0 L1796.6,234.2 L1797.6,244.8 L1798.6,261.3 L1799.6,280.4 L1800.6,294.4 L1801.6,310.2 L1802.6,324.2 L1803.6,334.7 L1804.6,345.7 L1805.6,357.1 L1806.6,366.2 L1807.6,375.5 L1808.6,384.0 L1809.6,392.1 L1810.6,399.8 L1811.6,407.3 L1812.6,415.2 L1813.6,421.7 L1814.6,430.8 L1815.6,434.6 L1816.6,440.7 L1817.6,445.5 L1818.6,451.2 L1819.6,452.3 L1820.6,459.7 L1821.6,464.4 L1822.6,468.6 L1823.6,473.8 L1824.6,477.1 L1825.6,481.1 L1826.6,484.3 L1827.6,488.7 L1828.6,495.2 L1829.6,497.2 L1830.6,506.4 L1831.6,514.2 L1832.6,523.5 L1833.6,530.5 L1834.6,536.5 L1835.6,540.4 L1836.6,545.0 L1837.6,548.2 L1838.6,552.5 L1839.6,556.7 L1840.6,559.9 L1841.6,561.6 L1842.6,566.5 L1843.6,569.7 L1844.6,572.6 L1845.6,575.5 L1846.6,578.9 L1847.6,581.6 L1848.6,585.1 L1849.6,587.8 L1850.6,589.2 L1851.6,592.0 L1852.6,593.3 L1853.6,594.4 L1854.6,599.3 L1855.6,600.4 L1856.6,601.9 L1857.6,601.8 L1858.6,601.2 L1859.6,603.6 L1860.6,604.5 L1861.6,608.3 L1862.6,611.4 L1863.6,612.9 L1864.6,613.9 L1865.6,616.0 L1866.6,613.2 L1867.6,614.4 L1868.6,614.5 L1869.6,615.3 L1870.6,614.9 L1871.6,614.5 L1872.6,614.6 L1873.6,616.1 L1874.6,613.5 L1875.6,613.5 L1876.6,613.4 L1877.6,613.5 L1878.6,612.3 L1879.6,612.6 L1880.6,618.7 L1881.6,613.1 L1882.6,613.1 L1883.6,611.8 L1884.6,610.7 L1885.6,609.7 L1886.6,609.0 L1887.6,609.1 L1888.6,610.1 L1889.6,608.6 L1890.6,608.4 L1891.6,608.9 L1892.6,608.2 L1893.6,614.0 L1894.6,609.4 L1895.6,608.3 L1896.6,608.5 L1897.6,609.1 L1898.6,609.6 L1899.6,609.5 L1900.6,609.0 L1901.6,610.4 L1902.6,612.2 L1903.6,613.0 L1904.6,613.4 L1905.6,615.2 L1906.6,617.1 L1907.6,618.5 L1908.6,619.2 L1909.6,618.7 L1910.6,618.8 L1911.6,618.2 L1912.6,618.4 L1913.6,619.2 L1914.6,620.7 L1915.6,621.4 L1916.6,621.6 L1917.6,621.2 L1918.6,621.2 L1919.6,622.3 L1920.6,623.6 L1921.6,622.9 L1922.6,621.5 L1923.6,620.7 L1924.6,622.4 L1925.6,624.9 L1926.6,626.0 L1927.6,625.6 L1928.6,631.7 L1929.6,625.6 L1930.6,628.1 L1931.6,631.0 L1932.6,629.6 L1933.6,629.1 L1934.6,629.5 L1935.6,630.1 L1936.6,628.2 L1937.6,630.6 L1938.6,631.6 L1939.6,631.2 L1940.6,626.7 L1941.6,626.8 L1942.6,630.4 L1943.6,629.4 L1944.6,629.3 L1945.6,630.8 L1946.6,630.3 L1947.6,624.5 L1948.6,627.7 L1949.6,627.5 L1950.6,628.0 L1951.6,631.7 L1952.6,629.4 L1953.6,629.2 L1954.6,627.8 L1955.6,625.1 L1956.6,625.9 L1957.6,626.2 L1958.6,629.2 L1959.6,625.4 L1960.6,625.9 L1961.6,626.0 L1962.6,625.7 L1963.6,624.1 L1964.6,625.1 L1965.6,624.1 L1966.6,623.1 L1967.6,624.3 L1968.6,623.5 L1969.6,623.9 L1970.6,624.2 L1971.6,624.9 L1972.6,624.2 L1973.6,623.9 L1974.6,623.1 L1975.6,622.3 L1976.6,622.5 L1977.6,620.2 L1978.6,623.4 L1979.6,623.0 L1980.6,627.6 L1981.6,623.5 L1982.6,622.5 L1983.6,622.0 L1984.6,623.0 L1985.6,623.9 L1986.6,624.5 L1987.6,624.2 L1988.6,623.9 L1989.6,624.8 L1990.6,626.3 L1991.6,624.9 L1992.6,624.5 L1993.6,623.8 L1994.6,623.5 L1995.6,623.8 L1996.6,624.7 L1997.6,627.0 L1998.6,626.5 L1999.6,625.0 L2000.6,625.9 L2001.6,629.3 L2002.6,627.3 L2003.6,627.3 L2004.6,627.5 L2005.6,630.1 L2006.6,627.9 L2007.6,627.3 L2008.6,627.5 L2009.6,627.1 L2010.6,625.8 L2011.6,625.4 L2012.6,625.0 L2013.6,624.4 L2014.6,618.4 L2015.6,620.6 L2016.6,618.8 L2017.6,618.2 L2018.6,618.0 L2019.6,615.7 L2020.6,614.5 L2021.6,612.7 L2022.6,611.9 L2023.6,610.5 L2024.6,609.2 L2025.6,612.6 L2026.6,607.5 L2027.6,607.9 L2028.6,606.8 L2029.6,604.9 L2030.6,603.0 L2031.6,601.5 L2032.6,598.9 L2033.6,597.7 L2034.6,597.1 L2035.6,596.5 L2036.6,594.2 L2037.6,594.7 L2038.6,593.8 L2039.6,592.8 L2040.6,591.2 L2041.6,591.2 L2042.6,591.1 L2043.6,591.6 L2044.6,590.2 L2045.6,589.7 L2046.6,588.2 L2047.6,587.3 L2048.6,586.0 L2049.6,585.8 L2050.6,586.3 L2051.6,586.2 L2052.6,587.3 L2053.6,587.2 L2054.6,588.2 L2055.6,585.1 L2056.6,585.9 L2057.6,586.6 L2058.6,585.9 L2059.6,586.1 L2060.6,584.7 L2061.6,584.8 L2062.6,586.0 L2063.6,587.9 L2064.6,585.7 L2065.6,582.6 L2066.6,586.8 L2067.6,586.9 L2068.6,588.2 L2069.6,586.7 L2070.6,585.7 L2071.6,586.6 L2072.6,586.1 L2073.6,586.4 L2074.6,587.7 L2075.6,588.1 L2076.6,588.5 L2077.6,588.4 L2078.6,588.5 L2079.6,587.6 L2080.6,588.0 L2081.6,588.1 L2082.6,587.4 L2083.6,587.8 L2084.6,587.1 L2085.6,588.4 L2086.6,588.7 L2087.6,589.7 L2088.6,590.1 L2089.6,590.1 L2090.6,588.5 L2091.6,589.5 L2092.6,585.7 L2093.6,586.1 L2094.6,587.1 L2095.6,586.6 L2096.6,587.1 L2097.6,592.2 L2098.6,592.1 L2099.6,590.2 L2100.6,588.6 L2101.6,588.7 L2102.6,589.0 L2103.6,588.0 L2104.6,587.3 L2105.6,586.0 L2106.6,586.0 L2107.6,584.7 L2108.6,579.7 L2109.6,583.1 L2110.6,581.7 L2111.6,582.4 L2112.6,582.6 L2113.6,583.0 L2114.6,580.6 L2115.6,578.3 L2116.6,577.1 L2117.6,574.0 L2118.6,570.6 L2119.6,571.0 L2120.6,568.7 L2121.6,566.9 L2122.6,567.2 L2123.6,564.4 L2124.6,563.6 L2125.6,563.3 L2126.6,562.1 L2127.6,561.8 L2128.6,559.5 L2129.6,558.0 L2130.6,557.1 L2131.6,556.3 L2132.6,554.8 L2133.6,552.9 L2134.6,551.1 L2135.6,550.5 L2136.6,548.3 L2137.6,547.1 L2138.6,546.2 L2139.6,544.0 L2140.6,542.8 L2141.6,539.8 L2142.6,537.1 L2143.6,529.2 L2144.6,532.4 L2145.6,530.7 L2146.6,529.4 L2147.6,527.0 L2148.6,524.8 L2149.6,522.9 L2150.6,521.3 L2151.6,519.4 L2152.6,516.0 L2153.6,511.3 L2154.6,508.7 L2155.6,506.5 L2156.6,504.5 L2157.6,500.7 L2158.6,496.8 L2159.6,494.9 L2160.6,491.4 L2161.6,488.2 L2162.6,484.2 L2163.6,479.6 L2164.6,476.7 L2165.6,473.9 L2166.6,468.3 L2167.6,464.8 L2168.6,460.4 L2169.6,455.9 L2170.6,450.9 L2171.6,443.7 L2172.6,436.8 L2173.6,430.4 L2174.6,422.9 L2175.6,416.1 L2176.6,409.8 L2177.6,404.5 L2178.6,398.2 L2179.6,393.8 L2180.6,388.7 L2181.6,384.5 L2182.6,378.2 L2183.6,371.7 L2184.6,366.6 L2185.6,359.6 L2186.6,353.0 L2187.6,345.7 L2188.6,335.6 L2189.6,329.7 L2190.6,323.8 L2191.6,319.1 L2192.6,312.8 L2193.6,306.3 L2194.6,294.7 L2195.6,289.3 L2196.6,278.3 L2197.6,267.7 L2198.6,257.1 L2199.6,244.9 L2200.6,236.9 L2201.6,228.4 L2202.6,218.2 L2203.6,208.0 L2204.6,195.3 L2205.6,187.9 L2206.6,177.9 L2207.6,171.9 L2208.6,166.1 L2209.6,155.4 L2210.6,140.7 L2211.6,142.9 L2212.6,137.5 L2213.6,136.2 L2214.6,133.6 L2215.6,131.8 L2216.6,134.5 L2217.6,136.7 L2218.6,140.5 L2219.6,144.2 L2220.6,148.3 L2221.6,160.8 L2222.6,173.6 L2223.6,179.2 L2224.6,184.0 L2225.6,190.8 L2226.6,200.6 L2227.6,207.3 L2228.6,219.0 L2229.6,233.2 L2230.6,253.4 L2231.6,265.5 L2232.6,274.7 L2233.6,283.3 L2234.6,294.5 L2235.6,307.4 L2236.6,315.5 L2237.6,332.2 L2238.6,344.5 L2239.6,361.2 L2240.6,378.6 L2241.6,387.9 L2242.6,395.1 L2243.6,407.7 L2244.6,415.6 L2245.6,422.4 L2246.6,429.1 L2247.6,436.2 L2248.6,444.5 L2249.6,448.9 L2250.6,454.1 L2251.6,460.4 L2252.6,466.0 L2253.6,471.9 L2254.6,477.5 L2255.6,481.6 L2256.6,486.6 L2257.6,492.2 L2258.6,497.4 L2259.6,507.2 L2260.6,509.5 L2261.6,514.1 L2262.6,519.6 L2263.6,523.8 L2264.6,527.9 L2265.6,535.1 L2266.6,535.2 L2267.6,540.1 L2268.6,543.7 L2269.6,546.9 L2270.6,549.5 L2271.6,553.1 L2272.6,556.8 L2273.6,558.6 L2274.6,562.4 L2275.6,566.1 L2276.6,569.0 L2277.6,571.2 L2278.6,574.2 L2279.6,575.2 L2280.6,575.8 L2281.6,570.9 L2282.6,579.6 L2283.6,580.8 L2284.6,582.7 L2285.6,584.0 L2286.6,581.7 L2287.6,588.2 L2288.6,589.4 L2289.6,591.8 L2290.6,592.3 L2291.6,594.5 L2292.6,597.6 L2293.6,596.6 L2294.6,595.2 L2295.6,598.0 L2296.6,598.6 L2297.6,600.5 L2298.6,602.9 L2299.6,603.7 L2300.6,605.7 L2301.6,609.9 L2302.6,608.6 L2303.6,611.1 L2304.6,612.7 L2305.6,613.2 L2306.6,614.8 L2307.6,614.1 L2308.6,614.3 L2309.6,615.0 L2310.6,618.3 L2311.6,620.2 L2312.6,620.8 L2313.6,621.9 L2314.6,625.6 L2315.6,623.3 L2316.6,623.6 L2317.6,623.5 L2318.6,622.1 L2319.6,623.3 L2320.6,626.4 L2321.6,627.1 L2322.6,625.9 L2323.6,628.5 L2324.6,629.3 L2325.6,630.3 L2326.6,629.7 L2327.6,630.0 L2328.6,630.0 L2329.6,631.1 L2330.6,629.5 L2331.6,631.2 L2332.6,632.9 L2333.6,634.1 L2334.6,635.6 L2335.6,635.1 L2336.6,636.7 L2337.6,637.3 L2338.6,639.6 L2339.6,639.8 L2340.6,640.0 L2341.6,641.2 L2342.6,641.4 L2343.6,641.5 L2344.6,643.3 L2345.6,644.4 L2346.6,644.4 L2347.6,644.7 L2348.6,645.3 L2349.6,646.0 L2350.6,646.4 L2351.6,647.2 L2352.6,648.3 L2353.6,649.0 L2354.6,649.3 L2355.6,650.8 L2356.6,658.3 L2357.6,651.7 L2358.6,651.4 L2359.6,652.5 L2360.6,653.1 L2361.6,653.8 L2362.6,653.5 L2363.6,653.6 L2364.6,652.2 L2365.6,655.5 L2366.6,652.4 L2367.6,654.9 L2368.6,655.3 L2369.6,654.5 L2370.6,652.4 L2371.6,658.0 L2372.6,654.8 L2373.6,655.3 L2374.6,655.4 L2375.6,655.4 L2376.6,656.4 L2377.6,658.0 L2378.6,659.3 L2379.6,659.5 L2380.6,660.0 L2381.6,659.5 L2382.6,658.7 L2383.6,657.8 L2384.6,659.8 L2385.6,661.2 L2386.6,662.2 L2387.6,663.2 L2388.6,663.5 L2389.6,663.1 L2390.6,662.7 L2391.6,663.4 L2392.6,664.3 L2393.6,665.1 L2394.6,665.6 L2395.6,667.4 L2396.6,667.3 L2397.6,667.4 L2398.6,667.1 L2399.6,667.5 L2400.6,668.4 L2401.6,668.4 L2402.6,669.2 L2403.6,669.3 L2404.6,669.1 L2405.6,668.5 L2406.6,668.4 L2407.6,673.5 L2408.6,667.8 L2409.6,669.2 L2410.6,667.2 L2411.6,668.6 L2412.6,670.3 L2413.6,671.4 L2414.6,671.8 L2415.6,672.4 L2416.6,672.0 L2417.6,670.9 L2418.6,671.8 L2419.6,671.2 L2420.6,671.7 L2421.6,671.3 L2422.6,672.5 L2423.6,673.3 L2424.6,673.2 L2425.6,672.3 L2426.6,676.4 L2427.6,673.7 L2428.6,674.0 L2429.6,670.9 L2430.6,673.1 L2431.6,674.7 L2432.6,673.8 L2433.6,674.2 L2434.6,676.9 L2435.6,675.2 L2436.6,675.8 L2437.6,675.4 L2438.6,674.8 L2439.6,674.9 L2440.6,675.0 L2441.6,675.1 L2442.6,673.6 L2443.6,675.1 L2444.6,676.2 L2445.6,677.4 L2446.6,678.5 L2447.6,679.2 L2448.6,679.2 L2449.6,679.2 L2450.6,678.1 L2451.6,677.7 L2452.6,676.4 L2453.6,676.2 L2454.6,676.8 L2455.6,677.4 L2456.6,677.6 L2457.6,680.0 L2458.6,678.7 L2459.6,677.8 L2460.6,676.5 L2461.5,677.2" fill="none" stroke="#000" stroke-width="3.7" stroke-linejoin="round"/>
<path d="M1486.6,723.5 L1487.6,726.5 L1488.6,727.9 L1489.6,728.5 L1490.6,729.6 L1491.6,729.7 L1492.6,731.2 L1493.6,730.9 L1494.6,730.3 L1495.6,731.2 L1496.6,730.6 L1497.6,730.2 L1498.6,729.7 L1499.6,724.4 L1500.6,728.3 L1501.6,728.1 L1502.6,727.8 L1503.6,727.3 L1504.6,726.2 L1505.6,728.1 L1506.6,723.5 L1507.6,720.8 L1508.6,716.7 L1509.6,711.3 L1510.6,705.6 L1511.6,698.2 L1512.6,690.4 L1513.6,685.9 L1514.6,687.1 L1515.6,693.2 L1516.6,699.1 L1517.6,703.4 L1518.6,706.9 L1519.6,711.6 L1520.6,713.8 L1521.6,715.8 L1522.6,717.5 L1523.6,718.2 L1524.6,721.4 L1525.6,721.1 L1526.6,722.6 L1527.6,723.8 L1528.6,724.1 L1529.6,725.5 L1530.6,725.9 L1531.6,727.1 L1532.6,724.6 L1533.6,727.7 L1534.6,729.3 L1535.6,729.7 L1536.6,730.2 L1537.6,729.1 L1538.6,728.9 L1539.6,728.9 L1540.6,728.1 L1541.6,726.9 L1542.6,726.6 L1543.6,725.2 L1544.6,724.5 L1545.6,722.9 L1546.6,721.7 L1547.6,718.9 L1548.6,715.9 L1549.6,714.2 L1550.6,712.6 L1551.6,708.7 L1552.6,705.4 L1553.6,702.2 L1554.6,697.0 L1555.6,692.5 L1556.6,686.7 L1557.6,682.4 L1558.6,680.6 L1559.6,681.9 L1560.6,683.1 L1561.6,685.8 L1562.6,688.3 L1563.6,689.1 L1564.6,698.8 L1565.6,697.6 L1566.6,700.0 L1567.6,702.3 L1568.6,707.4 L1569.6,708.0 L1570.6,711.9 L1571.6,714.7 L1572.6,718.1 L1573.6,720.3 L1574.6,722.8 L1575.6,724.9 L1576.6,726.2 L1577.6,728.3 L1578.6,729.9 L1579.6,730.4 L1580.6,732.9 L1581.6,731.3 L1582.6,732.9 L1583.6,735.4 L1584.6,735.9 L1585.6,736.7 L1586.6,736.2 L1587.6,735.7 L1588.6,734.5 L1589.6,736.2 L1590.6,737.2 L1591.6,737.0 L1592.6,736.9 L1593.6,736.9 L1594.6,737.7 L1595.6,737.1 L1596.6,738.6 L1597.6,738.9 L1598.6,738.9 L1599.6,738.5 L1600.6,737.9 L1601.6,737.5 L1602.6,738.7 L1603.6,739.2 L1604.6,738.9 L1605.6,739.3 L1606.6,739.7 L1607.6,739.3 L1608.6,739.5 L1609.6,738.5 L1610.6,738.8 L1611.6,737.4 L1612.6,738.1 L1613.6,737.9 L1614.6,736.9 L1615.6,735.4 L1616.6,735.5 L1617.6,732.7 L1618.6,734.1 L1619.6,733.6 L1620.6,730.5 L1621.6,731.3 L1622.6,731.2 L1623.6,730.2 L1624.6,729.4 L1625.6,724.6 L1626.6,722.3 L1627.6,719.4 L1628.6,716.8 L1629.6,712.8 L1630.6,708.0 L1631.6,704.5 L1632.6,702.0 L1633.6,702.3 L1634.6,705.9 L1635.6,710.9 L1636.6,714.6 L1637.6,718.4 L1638.6,720.7 L1639.6,721.9 L1640.6,728.6 L1641.6,732.2 L1642.6,734.5 L1643.6,735.6 L1644.6,734.0 L1645.6,738.5 L1646.6,737.4 L1647.6,737.3 L1648.6,738.3 L1649.6,736.1 L1650.6,735.1 L1651.6,738.3 L1652.6,746.5 L1653.6,740.4 L1654.6,739.5 L1655.6,739.5 L1656.6,738.7 L1657.6,740.5 L1658.6,740.4 L1659.6,740.4 L1660.6,740.4 L1661.6,740.3 L1662.6,742.7 L1663.6,740.2 L1664.6,739.8 L1665.6,739.3 L1666.6,738.7 L1667.6,741.6 L1668.6,739.6 L1669.6,739.2 L1670.6,737.8 L1671.6,736.9 L1672.6,736.2 L1673.6,737.0 L1674.6,736.1 L1675.6,735.9 L1676.6,736.4 L1677.6,736.4 L1678.6,731.8 L1679.6,736.5 L1680.6,736.1 L1681.6,735.6 L1682.6,734.5 L1683.6,734.8 L1684.6,734.2 L1685.6,734.1 L1686.6,734.1 L1687.6,735.0 L1688.6,734.8 L1689.6,734.9 L1690.6,734.7 L1691.6,731.8 L1692.6,734.8 L1693.6,733.8 L1694.6,734.9 L1695.6,735.4 L1696.6,735.5 L1697.6,734.8 L1698.6,734.5 L1699.6,735.2 L1700.6,732.6 L1701.6,736.3 L1702.6,736.8 L1703.6,736.0 L1704.6,736.8 L1705.6,736.6 L1706.6,738.4 L1707.6,736.9 L1708.6,737.6 L1709.6,737.9 L1710.6,738.5 L1711.6,737.6 L1712.6,738.1 L1713.6,736.9 L1714.6,737.0 L1715.6,736.7 L1716.6,736.8 L1717.6,736.9 L1718.6,733.1 L1719.6,736.7 L1720.6,736.6 L1721.6,736.9 L1722.6,736.6 L1723.6,735.5 L1724.6,731.5 L1725.6,735.5 L1726.6,734.9 L1727.6,735.3 L1728.6,734.8 L1729.6,733.4 L1730.6,733.0 L1731.6,733.9 L1732.6,730.0 L1733.6,731.1 L1734.6,731.2 L1735.6,731.8 L1736.6,731.1 L1737.6,730.9 L1738.6,730.9 L1739.6,730.0 L1740.6,729.0 L1741.6,729.1 L1742.6,728.4 L1743.6,727.4 L1744.6,730.0 L1745.6,728.5 L1746.6,727.5 L1747.6,726.1 L1748.6,724.9 L1749.6,723.6 L1750.6,722.1 L1751.6,720.7 L1752.6,721.5 L1753.6,722.2 L1754.6,719.9 L1755.6,717.1 L1756.6,714.8 L1757.6,712.0 L1758.6,710.1 L1759.6,709.8 L1760.6,707.9 L1761.6,707.0 L1762.6,705.8 L1763.6,704.8 L1764.6,703.8 L1765.6,702.9 L1766.6,697.7 L1767.6,702.0 L1768.6,701.8 L1769.6,700.4 L1770.6,699.6 L1771.6,699.7 L1772.6,698.4 L1773.6,697.7 L1774.6,695.9 L1775.6,695.9 L1776.6,694.8 L1777.6,693.6 L1778.6,690.3 L1779.6,686.7 L1780.6,688.8 L1781.6,681.5 L1782.6,681.1 L1783.6,677.1 L1784.6,674.0 L1785.6,669.7 L1786.6,665.9 L1787.6,662.3 L1788.6,658.8 L1789.6,654.9 L1790.6,650.6 L1791.6,646.6 L1792.6,644.4 L1793.6,640.3 L1794.6,639.2 L1795.6,637.3 L1796.6,636.6 L1797.6,637.5 L1798.6,639.4 L1799.6,642.0 L1800.6,640.8 L1801.6,643.1 L1802.6,645.3 L1803.6,647.3 L1804.6,648.2 L1805.6,652.1 L1806.6,654.8 L1807.6,658.9 L1808.6,662.2 L1809.6,665.4 L1810.6,668.5 L1811.6,673.1 L1812.6,677.0 L1813.6,680.7 L1814.6,679.5 L1815.6,688.1 L1816.6,691.3 L1817.6,695.0 L1818.6,699.5 L1819.6,702.8 L1820.6,706.3 L1821.6,708.5 L1822.6,710.2 L1823.6,711.9 L1824.6,715.1 L1825.6,716.7 L1826.6,718.6 L1827.6,720.6 L1828.6,722.5 L1829.6,723.8 L1830.6,724.7 L1831.6,726.5 L1832.6,727.3 L1833.6,728.3 L1834.6,729.8 L1835.6,731.0 L1836.6,731.9 L1837.6,732.8 L1838.6,733.8 L1839.6,734.8 L1840.6,737.0 L1841.6,738.1 L1842.6,738.8 L1843.6,741.7 L1844.6,741.1 L1845.6,744.2 L1846.6,744.1 L1847.6,746.4 L1848.6,748.3 L1849.6,749.0 L1850.6,750.0 L1851.6,749.7 L1852.6,750.3 L1853.6,749.3 L1854.6,751.7 L1855.6,753.6 L1856.6,752.5 L1857.6,754.9 L1858.6,754.8 L1859.6,754.1 L1860.6,752.3 L1861.6,754.7 L1862.6,753.7 L1863.6,756.7 L1864.6,756.7 L1865.6,757.1 L1866.6,757.8 L1867.6,758.1 L1868.6,758.4 L1869.6,758.4 L1870.6,757.5 L1871.6,757.6 L1872.6,758.6 L1873.6,758.2 L1874.6,758.8 L1875.6,758.8 L1876.6,758.8 L1877.6,759.5 L1878.6,758.7 L1879.6,758.7 L1880.6,758.9 L1881.6,758.3 L1882.6,758.7 L1883.6,760.2 L1884.6,760.2 L1885.6,759.5 L1886.6,760.1 L1887.6,760.5 L1888.6,759.8 L1889.6,759.3 L1890.6,754.9 L1891.6,758.3 L1892.6,758.1 L1893.6,756.1 L1894.6,758.3 L1895.6,759.4 L1896.6,757.9 L1897.6,758.1 L1898.6,757.6 L1899.6,757.5 L1900.6,756.7 L1901.6,757.1 L1902.6,756.3 L1903.6,755.5 L1904.6,756.5 L1905.6,760.0 L1906.6,760.8 L1907.6,757.9 L1908.6,757.9 L1909.6,756.2 L1910.6,755.7 L1911.6,755.3 L1912.6,756.3 L1913.6,756.7 L1914.6,756.6 L1915.6,756.5 L1916.6,756.2 L1917.6,755.3 L1918.6,754.5 L1919.6,755.1 L1920.6,755.2 L1921.6,756.0 L1922.6,756.5 L1923.6,756.7 L1924.6,757.4 L1925.6,758.2 L1926.6,758.1 L1927.6,755.2 L1928.6,757.6 L1929.6,758.4 L1930.6,758.2 L1931.6,759.0 L1932.6,759.5 L1933.6,759.3 L1934.6,760.6 L1935.6,761.5 L1936.6,763.0 L1937.6,762.8 L1938.6,762.3 L1939.6,762.3 L1940.6,761.5 L1941.6,760.9 L1942.6,760.8 L1943.6,755.2 L1944.6,762.7 L1945.6,764.0 L1946.6,763.7 L1947.6,759.4 L1948.6,761.1 L1949.6,762.7 L1950.6,762.0 L1951.6,762.2 L1952.6,762.7 L1953.6,766.6 L1954.6,763.7 L1955.6,763.5 L1956.6,763.4 L1957.6,764.2 L1958.6,764.3 L1959.6,763.9 L1960.6,764.8 L1961.6,764.2 L1962.6,764.2 L1963.6,764.8 L1964.6,764.4 L1965.6,767.3 L1966.6,766.1 L1967.6,765.1 L1968.6,764.9 L1969.6,765.8 L1970.6,768.6 L1971.6,765.1 L1972.6,765.6 L1973.6,765.1 L1974.6,764.8 L1975.6,764.8 L1976.6,764.8 L1977.6,765.0 L1978.6,765.5 L1979.6,765.6 L1980.6,765.4 L1981.6,765.5 L1982.6,766.9 L1983.6,765.4 L1984.6,766.0 L1985.6,765.1 L1986.6,764.8 L1987.6,766.2 L1988.6,766.4 L1989.6,767.5 L1990.6,767.2 L1991.6,767.2 L1992.6,768.2 L1993.6,768.5 L1994.6,773.1 L1995.6,767.8 L1996.6,767.5 L1997.6,767.8 L1998.6,768.6 L1999.6,769.1 L2000.6,768.6 L2001.6,768.4 L2002.6,773.2 L2003.6,768.0 L2004.6,767.9 L2005.6,768.1 L2006.6,768.0 L2007.6,769.1 L2008.6,770.2 L2009.6,769.7 L2010.6,769.8 L2011.6,769.7 L2012.6,770.4 L2013.6,769.7 L2014.6,768.8 L2015.6,769.7 L2016.6,769.5 L2017.6,768.9 L2018.6,768.4 L2019.6,769.2 L2020.6,768.0 L2021.6,767.8 L2022.6,767.5 L2023.6,768.0 L2024.6,767.6 L2025.6,766.9 L2026.6,766.4 L2027.6,766.6 L2028.6,766.9 L2029.6,765.9 L2030.6,766.7 L2031.6,766.4 L2032.6,767.5 L2033.6,768.3 L2034.6,767.3 L2035.6,766.2 L2036.6,766.2 L2037.6,765.7 L2038.6,768.4 L2039.6,766.3 L2040.6,766.0 L2041.6,766.2 L2042.6,767.3 L2043.6,766.6 L2044.6,765.7 L2045.6,770.4 L2046.6,765.6 L2047.6,764.3 L2048.6,762.2 L2049.6,763.3 L2050.6,764.9 L2051.6,764.3 L2052.6,765.5 L2053.6,765.7 L2054.6,764.8 L2055.6,763.8 L2056.6,763.4 L2057.6,764.3 L2058.6,767.0 L2059.6,764.9 L2060.6,765.6 L2061.6,762.9 L2062.6,765.4 L2063.6,765.3 L2064.6,765.1 L2065.6,765.1 L2066.6,764.9 L2067.6,765.5 L2068.6,765.1 L2069.6,765.5 L2070.6,765.0 L2071.6,765.0 L2072.6,766.0 L2073.6,767.4 L2074.6,765.4 L2075.6,766.6 L2076.6,766.3 L2077.6,766.0 L2078.6,765.4 L2079.6,763.8 L2080.6,765.6 L2081.6,765.5 L2082.6,766.2 L2083.6,766.1 L2084.6,766.3 L2085.6,766.2 L2086.6,767.0 L2087.6,767.0 L2088.6,765.9 L2089.6,766.6 L2090.6,767.1 L2091.6,766.6 L2092.6,766.6 L2093.6,766.6 L2094.6,766.0 L2095.6,764.7 L2096.6,765.1 L2097.6,765.7 L2098.6,766.1 L2099.6,766.8 L2100.6,766.5 L2101.6,770.6 L2102.6,767.0 L2103.6,767.4 L2104.6,766.5 L2105.6,767.3 L2106.6,766.3 L2107.6,765.8 L2108.6,766.7 L2109.6,765.7 L2110.6,766.9 L2111.6,767.2 L2112.6,763.5 L2113.6,765.2 L2114.6,766.6 L2115.6,767.9 L2116.6,765.6 L2117.6,765.8 L2118.6,763.6 L2119.6,765.3 L2120.6,765.3 L2121.6,764.6 L2122.6,763.7 L2123.6,763.5 L2124.6,763.6 L2125.6,763.0 L2126.6,763.1 L2127.6,762.2 L2128.6,761.7 L2129.6,761.1 L2130.6,759.9 L2131.6,760.9 L2132.6,759.8 L2133.6,759.2 L2134.6,758.2 L2135.6,757.9 L2136.6,756.6 L2137.6,756.6 L2138.6,756.9 L2139.6,756.9 L2140.6,756.1 L2141.6,756.1 L2142.6,754.3 L2143.6,754.6 L2144.6,754.4 L2145.6,753.7 L2146.6,754.4 L2147.6,753.7 L2148.6,753.7 L2149.6,752.7 L2150.6,751.4 L2151.6,751.2 L2152.6,749.9 L2153.6,748.3 L2154.6,749.3 L2155.6,749.8 L2156.6,750.2 L2157.6,748.7 L2158.6,748.3 L2159.6,747.7 L2160.6,748.1 L2161.6,746.5 L2162.6,746.6 L2163.6,743.7 L2164.6,744.2 L2165.6,745.8 L2166.6,744.0 L2167.6,742.8 L2168.6,741.9 L2169.6,741.1 L2170.6,739.4 L2171.6,739.0 L2172.6,738.0 L2173.6,736.8 L2174.6,736.0 L2175.6,735.1 L2176.6,734.4 L2177.6,733.2 L2178.6,732.9 L2179.6,732.0 L2180.6,730.3 L2181.6,727.6 L2182.6,727.2 L2183.6,726.2 L2184.6,726.3 L2185.6,724.3 L2186.6,724.9 L2187.6,723.6 L2188.6,721.6 L2189.6,720.3 L2190.6,719.9 L2191.6,717.5 L2192.6,716.6 L2193.6,715.6 L2194.6,713.5 L2195.6,711.4 L2196.6,710.5 L2197.6,710.1 L2198.6,710.2 L2199.6,708.9 L2200.6,707.2 L2201.6,705.8 L2202.6,704.2 L2203.6,702.3 L2204.6,701.5 L2205.6,700.5 L2206.6,698.5 L2207.6,696.4 L2208.6,694.7 L2209.6,690.5 L2210.6,692.6 L2211.6,692.2 L2212.6,690.5 L2213.6,689.7 L2214.6,688.7 L2215.6,688.3 L2216.6,688.4 L2217.6,689.0 L2218.6,689.2 L2219.6,693.1 L2220.6,692.5 L2221.6,693.0 L2222.6,694.9 L2223.6,696.6 L2224.6,696.0 L2225.6,698.4 L2226.6,700.1 L2227.6,701.0 L2228.6,702.5 L2229.6,705.3 L2230.6,709.3 L2231.6,709.3 L2232.6,710.1 L2233.6,712.0 L2234.6,714.1 L2235.6,716.8 L2236.6,718.6 L2237.6,719.7 L2238.6,720.4 L2239.6,721.6 L2240.6,722.4 L2241.6,724.3 L2242.6,725.6 L2243.6,727.4 L2244.6,730.1 L2245.6,731.8 L2246.6,733.5 L2247.6,734.9 L2248.6,737.6 L2249.6,739.2 L2250.6,738.1 L2251.6,741.7 L2252.6,743.4 L2253.6,745.4 L2254.6,747.0 L2255.6,748.2 L2256.6,749.5 L2257.6,749.4 L2258.6,750.7 L2259.6,751.3 L2260.6,751.6 L2261.6,752.4 L2262.6,753.3 L2263.6,754.2 L2264.6,754.9 L2265.6,753.5 L2266.6,755.2 L2267.6,756.8 L2268.6,757.8 L2269.6,758.5 L2270.6,759.4 L2271.6,759.6 L2272.6,760.8 L2273.6,760.4 L2274.6,762.1 L2275.6,763.0 L2276.6,763.5 L2277.6,763.1 L2278.6,762.2 L2279.6,762.5 L2280.6,763.6 L2281.6,765.3 L2282.6,769.5 L2283.6,768.5 L2284.6,768.2 L2285.6,768.9 L2286.6,768.9 L2287.6,769.0 L2288.6,768.6 L2289.6,768.5 L2290.6,768.9 L2291.6,768.5 L2292.6,770.9 L2293.6,770.4 L2294.6,771.1 L2295.6,771.5 L2296.6,771.4 L2297.6,771.0 L2298.6,771.5 L2299.6,773.7 L2300.6,770.7 L2301.6,771.4 L2302.6,772.1 L2303.6,772.2 L2304.6,772.0 L2305.6,771.9 L2306.6,771.9 L2307.6,773.1 L2308.6,773.5 L2309.6,773.2 L2310.6,774.7 L2311.6,773.4 L2312.6,774.0 L2313.6,774.8 L2314.6,777.8 L2315.6,774.6 L2316.6,774.4 L2317.6,775.1 L2318.6,779.7 L2319.6,775.4 L2320.6,775.0 L2321.6,774.7 L2322.6,775.5 L2323.6,776.1 L2324.6,777.2 L2325.6,777.9 L2326.6,777.9 L2327.6,777.5 L2328.6,777.4 L2329.6,778.7 L2330.6,778.6 L2331.6,778.1 L2332.6,778.7 L2333.6,779.8 L2334.6,779.3 L2335.6,780.3 L2336.6,777.1 L2337.6,779.0 L2338.6,778.9 L2339.6,778.2 L2340.6,777.9 L2341.6,778.0 L2342.6,778.2 L2343.6,776.9 L2344.6,778.2 L2345.6,780.6 L2346.6,778.6 L2347.6,778.4 L2348.6,777.9 L2349.6,778.3 L2350.6,779.0 L2351.6,779.5 L2352.6,779.5 L2353.6,778.9 L2354.6,779.0 L2355.6,780.7 L2356.6,779.2 L2357.6,779.5 L2358.6,781.1 L2359.6,781.0 L2360.6,781.3 L2361.6,780.5 L2362.6,780.6 L2363.6,781.3 L2364.6,780.5 L2365.6,780.4 L2366.6,780.8 L2367.6,780.7 L2368.6,781.2 L2369.6,781.0 L2370.6,781.5 L2371.6,781.3 L2372.6,781.3 L2373.6,781.6 L2374.6,781.9 L2375.6,781.4 L2376.6,783.8 L2377.6,782.0 L2378.6,781.8 L2379.6,781.5 L2380.6,782.0 L2381.6,782.6 L2382.6,783.1 L2383.6,781.6 L2384.6,783.4 L2385.6,783.5 L2386.6,783.8 L2387.6,782.1 L2388.6,782.3 L2389.6,782.8 L2390.6,782.1 L2391.6,782.3 L2392.6,783.3 L2393.6,784.0 L2394.6,783.9 L2395.6,782.7 L2396.6,782.9 L2397.6,780.9 L2398.6,782.8 L2399.6,782.8 L2400.6,781.9 L2401.6,782.1 L2402.6,783.3 L2403.6,781.5 L2404.6,782.6 L2405.6,784.1 L2406.6,784.0 L2407.6,784.6 L2408.6,784.2 L2409.6,782.3 L2410.6,785.8 L2411.6,785.7 L2412.6,785.8 L2413.6,785.2 L2414.6,785.2 L2415.6,784.9 L2416.6,785.0 L2417.6,784.6 L2418.6,787.9 L2419.6,784.0 L2420.6,785.1 L2421.6,784.0 L2422.6,785.2 L2423.6,785.9 L2424.6,785.3 L2425.6,785.4 L2426.6,784.9 L2427.6,784.9 L2428.6,785.8 L2429.6,785.9 L2430.6,784.7 L2431.6,785.9 L2432.6,783.8 L2433.6,785.1 L2434.6,785.9 L2435.6,786.5 L2436.6,785.8 L2437.6,785.6 L2438.6,785.1 L2439.6,785.0 L2440.6,785.8 L2441.6,785.4 L2442.6,787.7 L2443.6,785.4 L2444.6,785.5 L2445.6,785.5 L2446.6,786.5 L2447.6,786.3 L2448.6,787.6 L2449.6,786.7 L2450.6,785.9 L2451.6,786.1 L2452.6,786.7 L2453.6,788.1 L2454.6,787.3 L2455.6,787.1 L2456.6,787.5 L2457.6,787.3 L2458.6,786.8 L2459.6,785.6 L2460.6,787.3 L2461.5,786.6" fill="none" stroke="#ff0000" stroke-width="3.7" stroke-linejoin="round"/>
<path d="M1486.6,752.3 L1487.6,757.3 L1488.6,760.8 L1489.6,762.2 L1490.6,763.0 L1491.6,763.3 L1492.6,764.4 L1493.6,763.5 L1494.6,765.3 L1495.6,766.0 L1496.6,766.9 L1497.6,766.7 L1498.6,766.9 L1499.6,767.9 L1500.6,769.2 L1501.6,769.5 L1502.6,767.3 L1503.6,770.0 L1504.6,771.8 L1505.6,773.7 L1506.6,774.3 L1507.6,775.9 L1508.6,776.4 L1509.6,777.8 L1510.6,779.2 L1511.6,780.5 L1512.6,780.6 L1513.6,780.9 L1514.6,781.6 L1515.6,785.4 L1516.6,783.1 L1517.6,786.6 L1518.6,783.9 L1519.6,786.0 L1520.6,787.5 L1521.6,788.6 L1522.6,788.5 L1523.6,787.2 L1524.6,789.5 L1525.6,791.3 L1526.6,791.3 L1527.6,791.8 L1528.6,792.7 L1529.6,792.0 L1530.6,792.0 L1531.6,793.0 L1532.6,792.4 L1533.6,792.7 L1534.6,793.1 L1535.6,793.2 L1536.6,794.2 L1537.6,794.2 L1538.6,794.5 L1539.6,794.8 L1540.6,794.3 L1541.6,794.5 L1542.6,793.4 L1543.6,796.2 L1544.6,795.3 L1545.6,794.1 L1546.6,794.6 L1547.6,795.3 L1548.6,796.3 L1549.6,795.7 L1550.6,796.3 L1551.6,794.2 L1552.6,797.1 L1553.6,797.9 L1554.6,796.6 L1555.6,796.7 L1556.6,797.0 L1557.6,797.0 L1558.6,797.9 L1559.6,798.1 L1560.6,798.5 L1561.6,798.4 L1562.6,798.0 L1563.6,798.1 L1564.6,799.5 L1565.6,799.6 L1566.6,800.5 L1567.6,800.3 L1568.6,800.1 L1569.6,800.1 L1570.6,801.3 L1571.6,801.4 L1572.6,800.4 L1573.6,801.0 L1574.6,800.8 L1575.6,800.7 L1576.6,800.8 L1577.6,800.6 L1578.6,800.9 L1579.6,801.7 L1580.6,801.1 L1581.6,802.0 L1582.6,802.2 L1583.6,802.7 L1584.6,799.7 L1585.6,802.7 L1586.6,802.6 L1587.6,802.6 L1588.6,802.3 L1589.6,801.5 L1590.6,802.9 L1591.6,802.6 L1592.6,802.5 L1593.6,802.8 L1594.6,804.8 L1595.6,803.2 L1596.6,805.3 L1597.6,803.8 L1598.6,804.1 L1599.6,804.2 L1600.6,804.0 L1601.6,804.9 L1602.6,805.8 L1603.6,806.1 L1604.6,805.1 L1605.6,804.8 L1606.6,804.5 L1607.6,802.4 L1608.6,805.5 L1609.6,804.5 L1610.6,806.3 L1611.6,805.6 L1612.6,805.6 L1613.6,804.5 L1614.6,805.8 L1615.6,805.6 L1616.6,805.8 L1617.6,805.9 L1618.6,806.7 L1619.6,803.7 L1620.6,806.9 L1621.6,805.1 L1622.6,806.3 L1623.6,805.7 L1624.6,806.7 L1625.6,807.9 L1626.6,810.1 L1627.6,807.8 L1628.6,807.2 L1629.6,807.4 L1630.6,808.2 L1631.6,807.8 L1632.6,808.5 L1633.6,808.5 L1634.6,808.8 L1635.6,809.0 L1636.6,809.5 L1637.6,808.6 L1638.6,810.0 L1639.6,809.3 L1640.6,809.5 L1641.6,810.5 L1642.6,809.3 L1643.6,809.5 L1644.6,810.4 L1645.6,809.9 L1646.6,809.8 L1647.6,809.7 L1648.6,809.5 L1649.6,809.7 L1650.6,811.3 L1651.6,811.1 L1652.6,810.6 L1653.6,809.9 L1654.6,810.5 L1655.6,810.5 L1656.6,810.6 L1657.6,811.4 L1658.6,812.5 L1659.6,812.3 L1660.6,811.6 L1661.6,811.0 L1662.6,810.6 L1663.6,810.8 L1664.6,811.5 L1665.6,812.5 L1666.6,812.8 L1667.6,812.6 L1668.6,811.6 L1669.6,812.1 L1670.6,811.6 L1671.6,809.0 L1672.6,812.2 L1673.6,807.8 L1674.6,811.1 L1675.6,811.8 L1676.6,812.0 L1677.6,812.2 L1678.6,811.4 L1679.6,811.5 L1680.6,811.5 L1681.6,811.8 L1682.6,811.4 L1683.6,811.8 L1684.6,812.0 L1685.6,809.7 L1686.6,812.9 L1687.6,813.3 L1688.6,813.3 L1689.6,814.1 L1690.6,814.3 L1691.6,815.0 L1692.6,813.3 L1693.6,813.2 L1694.6,813.6 L1695.6,813.4 L1696.6,813.5 L1697.6,813.6 L1698.6,812.6 L1699.6,813.4 L1700.6,813.4 L1701.6,812.0 L1702.6,812.7 L1703.6,812.6 L1704.6,812.8 L1705.6,812.7 L1706.6,812.7 L1707.6,813.0 L1708.6,813.0 L1709.6,813.3 L1710.6,812.4 L1711.6,813.7 L1712.6,813.7 L1713.6,814.1 L1714.6,814.1 L1715.6,813.3 L1716.6,814.5 L1717.6,814.1 L1718.6,815.1 L1719.6,814.8 L1720.6,814.8 L1721.6,814.3 L1722.6,814.5 L1723.6,814.4 L1724.6,812.1 L1725.6,814.8 L1726.6,814.8 L1727.6,815.3 L1728.6,814.6 L1729.6,814.4 L1730.6,814.2 L1731.6,814.1 L1732.6,814.2 L1733.6,814.5 L1734.6,814.0 L1735.6,814.3 L1736.6,814.1 L1737.6,817.4 L1738.6,814.2 L1739.6,814.8 L1740.6,814.9 L1741.6,815.0 L1742.6,815.1 L1743.6,815.1 L1744.6,814.9 L1745.6,814.8 L1746.6,814.5 L1747.6,814.1 L1748.6,814.6 L1749.6,814.6 L1750.6,814.4 L1751.6,814.6 L1752.6,814.1 L1753.6,814.3 L1754.6,814.2 L1755.6,815.4 L1756.6,815.6 L1757.6,815.2 L1758.6,815.3 L1759.6,814.6 L1760.6,814.7 L1761.6,814.3 L1762.6,814.8 L1763.6,815.0 L1764.6,814.9 L1765.6,814.8 L1766.6,814.8 L1767.6,814.5 L1768.6,815.8 L1769.6,815.1 L1770.6,815.5 L1771.6,815.1 L1772.6,815.0 L1773.6,814.7 L1774.6,815.4 L1775.6,814.6 L1776.6,814.5 L1777.6,814.8 L1778.6,815.0 L1779.6,814.7 L1780.6,813.8 L1781.6,813.9 L1782.6,815.0 L1783.6,817.3 L1784.6,815.6 L1785.6,814.6 L1786.6,815.7 L1787.6,814.4 L1788.6,814.6 L1789.6,815.6 L1790.6,815.7 L1791.6,816.0 L1792.6,816.1 L1793.6,815.2 L1794.6,815.9 L1795.6,814.6 L1796.6,814.5 L1797.6,814.8 L1798.6,815.0 L1799.6,815.0 L1800.6,815.4 L1801.6,815.4 L1802.6,815.2 L1803.6,815.7 L1804.6,814.5 L1805.6,814.2 L1806.6,814.4 L1807.6,815.2 L1808.6,813.7 L1809.6,814.2 L1810.6,816.4 L1811.6,814.7 L1812.6,814.5 L1813.6,813.4 L1814.6,813.7 L1815.6,814.0 L1816.6,813.8 L1817.6,813.4 L1818.6,813.9 L1819.6,813.4 L1820.6,812.8 L1821.6,812.7 L1822.6,812.8 L1823.6,812.6 L1824.6,811.6 L1825.6,811.7 L1826.6,811.4 L1827.6,812.0 L1828.6,812.5 L1829.6,812.3 L1830.6,813.3 L1831.6,814.3 L1832.6,811.7 L1833.6,811.6 L1834.6,811.6 L1835.6,812.3 L1836.6,816.3 L1837.6,812.7 L1838.6,811.5 L1839.6,811.4 L1840.6,811.4 L1841.6,810.7 L1842.6,809.9 L1843.6,810.8 L1844.6,809.9 L1845.6,810.8 L1846.6,810.4 L1847.6,809.9 L1848.6,809.8 L1849.6,809.8 L1850.6,808.1 L1851.6,810.0 L1852.6,810.0 L1853.6,810.0 L1854.6,810.4 L1855.6,809.2 L1856.6,811.0 L1857.6,809.5 L1858.6,810.3 L1859.6,809.1 L1860.6,809.0 L1861.6,809.4 L1862.6,809.2 L1863.6,807.4 L1864.6,809.6 L1865.6,808.2 L1866.6,808.2 L1867.6,809.1 L1868.6,809.1 L1869.6,808.8 L1870.6,809.4 L1871.6,809.6 L1872.6,809.7 L1873.6,808.5 L1874.6,809.2 L1875.6,810.7 L1876.6,809.8 L1877.6,808.7 L1878.6,808.4 L1879.6,805.1 L1880.6,808.1 L1881.6,808.1 L1882.6,808.1 L1883.6,807.6 L1884.6,810.0 L1885.6,807.8 L1886.6,807.7 L1887.6,809.5 L1888.6,805.3 L1889.6,808.3 L1890.6,808.1 L1891.6,807.6 L1892.6,808.6 L1893.6,808.7 L1894.6,808.0 L1895.6,807.4 L1896.6,806.9 L1897.6,806.1 L1898.6,804.3 L1899.6,805.6 L1900.6,806.0 L1901.6,806.3 L1902.6,807.0 L1903.6,807.5 L1904.6,806.9 L1905.6,808.5 L1906.6,805.6 L1907.6,806.2 L1908.6,805.6 L1909.6,804.9 L1910.6,804.3 L1911.6,805.0 L1912.6,805.4 L1913.6,806.2 L1914.6,807.2 L1915.6,807.1 L1916.6,805.3 L1917.6,805.3 L1918.6,805.5 L1919.6,804.6 L1920.6,805.0 L1921.6,804.5 L1922.6,804.7 L1923.6,804.8 L1924.6,805.7 L1925.6,804.5 L1926.6,802.9 L1927.6,802.9 L1928.6,803.0 L1929.6,802.8 L1930.6,803.4 L1931.6,803.7 L1932.6,803.5 L1933.6,802.5 L1934.6,805.3 L1935.6,801.9 L1936.6,803.5 L1937.6,803.7 L1938.6,803.1 L1939.6,802.9 L1940.6,802.9 L1941.6,802.6 L1942.6,801.3 L1943.6,800.8 L1944.6,802.2 L1945.6,802.9 L1946.6,803.8 L1947.6,804.0 L1948.6,803.5 L1949.6,803.6 L1950.6,803.1 L1951.6,802.6 L1952.6,805.4 L1953.6,803.1 L1954.6,803.4 L1955.6,803.8 L1956.6,804.0 L1957.6,803.7 L1958.6,803.4 L1959.6,803.9 L1960.6,804.6 L1961.6,804.9 L1962.6,805.0 L1963.6,805.6 L1964.6,804.9 L1965.6,805.7 L1966.6,805.3 L1967.6,805.7 L1968.6,806.2 L1969.6,806.2 L1970.6,807.0 L1971.6,806.9 L1972.6,807.8 L1973.6,805.8 L1974.6,809.0 L1975.6,809.2 L1976.6,809.4 L1977.6,809.5 L1978.6,809.8 L1979.6,809.7 L1980.6,809.7 L1981.6,809.7 L1982.6,809.6 L1983.6,809.3 L1984.6,810.1 L1985.6,811.1 L1986.6,811.1 L1987.6,816.7 L1988.6,811.0 L1989.6,811.5 L1990.6,810.9 L1991.6,811.4 L1992.6,812.2 L1993.6,813.1 L1994.6,812.7 L1995.6,812.1 L1996.6,810.9 L1997.6,812.2 L1998.6,812.3 L1999.6,812.5 L2000.6,813.0 L2001.6,813.4 L2002.6,812.6 L2003.6,812.2 L2004.6,812.8 L2005.6,812.6 L2006.6,812.7 L2007.6,813.8 L2008.6,814.0 L2009.6,814.0 L2010.6,814.1 L2011.6,814.3 L2012.6,814.2 L2013.6,814.1 L2014.6,814.7 L2015.6,812.7 L2016.6,814.7 L2017.6,814.8 L2018.6,814.1 L2019.6,814.5 L2020.6,815.2 L2021.6,815.9 L2022.6,815.5 L2023.6,815.2 L2024.6,814.8 L2025.6,815.8 L2026.6,814.8 L2027.6,815.5 L2028.6,816.1 L2029.6,816.0 L2030.6,815.4 L2031.6,816.1 L2032.6,818.7 L2033.6,817.1 L2034.6,816.7 L2035.6,817.7 L2036.6,816.6 L2037.6,816.7 L2038.6,815.9 L2039.6,817.0 L2040.6,815.9 L2041.6,813.8 L2042.6,816.5 L2043.6,815.4 L2044.6,815.8 L2045.6,815.7 L2046.6,815.0 L2047.6,816.2 L2048.6,816.2 L2049.6,816.3 L2050.6,816.4 L2051.6,816.6 L2052.6,817.1 L2053.6,817.1 L2054.6,814.1 L2055.6,816.6 L2056.6,816.5 L2057.6,816.4 L2058.6,817.6 L2059.6,816.9 L2060.6,815.7 L2061.6,816.1 L2062.6,816.9 L2063.6,817.2 L2064.6,817.1 L2065.6,817.7 L2066.6,817.7 L2067.6,817.6 L2068.6,817.6 L2069.6,817.6 L2070.6,817.1 L2071.6,817.5 L2072.6,818.3 L2073.6,818.6 L2074.6,818.1 L2075.6,817.3 L2076.6,819.2 L2077.6,818.0 L2078.6,814.6 L2079.6,817.4 L2080.6,816.0 L2081.6,816.4 L2082.6,818.0 L2083.6,817.8 L2084.6,818.2 L2085.6,817.0 L2086.6,818.2 L2087.6,818.7 L2088.6,819.0 L2089.6,818.1 L2090.6,818.9 L2091.6,818.0 L2092.6,818.6 L2093.6,818.1 L2094.6,818.7 L2095.6,818.2 L2096.6,818.1 L2097.6,818.8 L2098.6,816.7 L2099.6,819.0 L2100.6,818.5 L2101.6,818.6 L2102.6,818.5 L2103.6,818.9 L2104.6,818.6 L2105.6,818.3 L2106.6,818.6 L2107.6,818.7 L2108.6,819.0 L2109.6,819.1 L2110.6,819.4 L2111.6,819.6 L2112.6,819.7 L2113.6,820.2 L2114.6,819.2 L2115.6,818.8 L2116.6,818.2 L2117.6,819.1 L2118.6,819.6 L2119.6,819.9 L2120.6,818.3 L2121.6,818.6 L2122.6,818.9 L2123.6,818.9 L2124.6,819.3 L2125.6,818.8 L2126.6,818.9 L2127.6,819.1 L2128.6,819.2 L2129.6,818.7 L2130.6,819.8 L2131.6,819.3 L2132.6,820.6 L2133.6,818.6 L2134.6,819.6 L2135.6,819.6 L2136.6,820.0 L2137.6,819.6 L2138.6,819.2 L2139.6,818.9 L2140.6,819.5 L2141.6,821.0 L2142.6,818.9 L2143.6,819.8 L2144.6,818.9 L2145.6,818.9 L2146.6,819.3 L2147.6,819.9 L2148.6,821.6 L2149.6,820.8 L2150.6,820.1 L2151.6,819.4 L2152.6,819.9 L2153.6,820.1 L2154.6,819.9 L2155.6,818.6 L2156.6,818.9 L2157.6,819.1 L2158.6,818.6 L2159.6,818.8 L2160.6,819.7 L2161.6,819.5 L2162.6,819.8 L2163.6,819.7 L2164.6,820.1 L2165.6,820.0 L2166.6,819.3 L2167.6,819.6 L2168.6,819.2 L2169.6,819.5 L2170.6,819.7 L2171.6,820.6 L2172.6,820.6 L2173.6,821.0 L2174.6,820.4 L2175.6,819.4 L2176.6,819.4 L2177.6,819.8 L2178.6,820.1 L2179.6,820.3 L2180.6,819.1 L2181.6,817.7 L2182.6,819.5 L2183.6,820.0 L2184.6,820.0 L2185.6,819.9 L2186.6,820.1 L2187.6,820.0 L2188.6,821.2 L2189.6,820.8 L2190.6,819.5 L2191.6,818.9 L2192.6,817.9 L2193.6,817.5 L2194.6,819.1 L2195.6,820.2 L2196.6,819.9 L2197.6,819.3 L2198.6,819.6 L2199.6,819.7 L2200.6,819.7 L2201.6,819.8 L2202.6,820.0 L2203.6,819.0 L2204.6,819.6 L2205.6,819.2 L2206.6,819.9 L2207.6,820.7 L2208.6,820.2 L2209.6,820.7 L2210.6,820.6 L2211.6,821.3 L2212.6,820.7 L2213.6,821.8 L2214.6,821.3 L2215.6,821.5 L2216.6,820.7 L2217.6,820.9 L2218.6,821.3 L2219.6,820.7 L2220.6,820.2 L2221.6,820.0 L2222.6,820.0 L2223.6,820.0 L2224.6,819.9 L2225.6,819.5 L2226.6,820.2 L2227.6,817.4 L2228.6,818.7 L2229.6,819.7 L2230.6,821.6 L2231.6,821.3 L2232.6,820.4 L2233.6,819.9 L2234.6,819.1 L2235.6,818.4 L2236.6,819.4 L2237.6,819.6 L2238.6,821.0 L2239.6,819.4 L2240.6,820.8 L2241.6,822.0 L2242.6,820.8 L2243.6,821.0 L2244.6,820.4 L2245.6,818.8 L2246.6,820.2 L2247.6,820.2 L2248.6,820.7 L2249.6,820.1 L2250.6,819.7 L2251.6,819.8 L2252.6,819.0 L2253.6,819.2 L2254.6,819.7 L2255.6,820.0 L2256.6,820.3 L2257.6,820.5 L2258.6,820.5 L2259.6,819.6 L2260.6,819.4 L2261.6,819.9 L2262.6,820.3 L2263.6,821.0 L2264.6,819.4 L2265.6,819.7 L2266.6,819.4 L2267.6,820.2 L2268.6,820.4 L2269.6,820.6 L2270.6,819.7 L2271.6,819.2 L2272.6,819.7 L2273.6,819.8 L2274.6,820.1 L2275.6,819.6 L2276.6,819.9 L2277.6,820.3 L2278.6,820.6 L2279.6,819.6 L2280.6,819.9 L2281.6,819.9 L2282.6,819.6 L2283.6,819.9 L2284.6,818.6 L2285.6,820.9 L2286.6,821.3 L2287.6,820.2 L2288.6,820.0 L2289.6,819.6 L2290.6,819.8 L2291.6,819.9 L2292.6,820.2 L2293.6,820.9 L2294.6,820.7 L2295.6,820.5 L2296.6,820.1 L2297.6,819.7 L2298.6,821.0 L2299.6,820.0 L2300.6,821.1 L2301.6,820.7 L2302.6,820.4 L2303.6,822.7 L2304.6,820.8 L2305.6,820.1 L2306.6,819.9 L2307.6,818.8 L2308.6,819.7 L2309.6,820.6 L2310.6,821.0 L2311.6,821.4 L2312.6,820.5 L2313.6,817.2 L2314.6,821.2 L2315.6,820.2 L2316.6,819.6 L2317.6,820.7 L2318.6,819.4 L2319.6,819.6 L2320.6,821.1 L2321.6,819.8 L2322.6,817.8 L2323.6,818.4 L2324.6,820.5 L2325.6,820.4 L2326.6,820.5 L2327.6,820.6 L2328.6,821.7 L2329.6,820.8 L2330.6,820.0 L2331.6,819.7 L2332.6,820.1 L2333.6,820.5 L2334.6,820.2 L2335.6,821.0 L2336.6,821.4 L2337.6,820.6 L2338.6,820.4 L2339.6,820.8 L2340.6,820.5 L2341.6,819.8 L2342.6,821.1 L2343.6,822.5 L2344.6,821.9 L2345.6,821.1 L2346.6,820.3 L2347.6,820.4 L2348.6,820.4 L2349.6,820.6 L2350.6,820.0 L2351.6,820.8 L2352.6,821.6 L2353.6,821.4 L2354.6,821.2 L2355.6,821.2 L2356.6,820.8 L2357.6,820.2 L2358.6,820.4 L2359.6,819.8 L2360.6,820.3 L2361.6,817.7 L2362.6,820.2 L2363.6,820.0 L2364.6,820.7 L2365.6,820.8 L2366.6,820.5 L2367.6,821.2 L2368.6,821.1 L2369.6,821.2 L2370.6,820.0 L2371.6,819.9 L2372.6,820.6 L2373.6,820.6 L2374.6,820.1 L2375.6,819.3 L2376.6,819.9 L2377.6,818.8 L2378.6,820.6 L2379.6,820.7 L2380.6,820.8 L2381.6,820.5 L2382.6,820.5 L2383.6,819.7 L2384.6,820.6 L2385.6,820.9 L2386.6,820.3 L2387.6,820.2 L2388.6,819.9 L2389.6,820.1 L2390.6,819.6 L2391.6,819.2 L2392.6,818.2 L2393.6,817.8 L2394.6,816.7 L2395.6,816.3 L2396.6,817.5 L2397.6,820.6 L2398.6,820.5 L2399.6,821.6 L2400.6,820.9 L2401.6,820.4 L2402.6,819.6 L2403.6,820.5 L2404.6,820.4 L2405.6,820.4 L2406.6,820.5 L2407.6,819.9 L2408.6,818.1 L2409.6,819.3 L2410.6,819.4 L2411.6,820.5 L2412.6,821.3 L2413.6,819.6 L2414.6,820.4 L2415.6,819.8 L2416.6,820.1 L2417.6,818.4 L2418.6,820.7 L2419.6,820.3 L2420.6,819.6 L2421.6,819.3 L2422.6,819.9 L2423.6,820.6 L2424.6,818.8 L2425.6,821.0 L2426.6,820.4 L2427.6,819.9 L2428.6,819.2 L2429.6,819.4 L2430.6,819.2 L2431.6,819.9 L2432.6,820.2 L2433.6,820.2 L2434.6,820.3 L2435.6,820.4 L2436.6,820.5 L2437.6,820.3 L2438.6,820.0 L2439.6,819.7 L2440.6,820.7 L2441.6,820.4 L2442.6,820.7 L2443.6,820.9 L2444.6,820.2 L2445.6,819.7 L2446.6,819.8 L2447.6,820.2 L2448.6,820.2 L2449.6,818.5 L2450.6,819.9 L2451.6,819.8 L2452.6,818.2 L2453.6,819.3 L2454.6,818.7 L2455.6,818.6 L2456.6,819.3 L2457.6,819.9 L2458.6,821.2 L2459.6,820.5 L2460.6,819.8 L2461.5,820.6" fill="none" stroke="#0000ff" stroke-width="3.7" stroke-linejoin="round"/>
<line x1="216.1" y1="38.5" x2="1194.7" y2="38.5" stroke="#000" stroke-width="2.3"/>
<line x1="1193.2" y1="38.5" x2="1193.2" y2="826.0" stroke="#000" stroke-width="3.0"/>
<line x1="216.1" y1="826.0" x2="1194.7" y2="826.0" stroke="#000" stroke-width="3.2"/>
<line x1="217.6" y1="37.0" x2="217.6" y2="827.5" stroke="#000" stroke-width="3.6"/>
<line x1="202.6" y1="826.0" x2="217.6" y2="826.0" stroke="#000" stroke-width="2.3"/>
<text transform="translate(165.92,841.40) scale(1,1.06)">0</text>
<line x1="210.1" y1="747.2" x2="217.6" y2="747.2" stroke="#000" stroke-width="2.3"/>
<line x1="202.6" y1="668.5" x2="217.6" y2="668.5" stroke="#000" stroke-width="2.3"/>
<text transform="translate(88.37,683.90) scale(1,1.06)">2000</text>
<line x1="210.1" y1="589.8" x2="217.6" y2="589.8" stroke="#000" stroke-width="2.3"/>
<line x1="202.6" y1="511.0" x2="217.6" y2="511.0" stroke="#000" stroke-width="2.3"/>
<text transform="translate(88.37,526.40) scale(1,1.06)">4000</text>
<line x1="210.1" y1="432.2" x2="217.6" y2="432.2" stroke="#000" stroke-width="2.3"/>
<line x1="202.6" y1="353.5" x2="217.6" y2="353.5" stroke="#000" stroke-width="2.3"/>
<text transform="translate(88.37,368.90) scale(1,1.06)">6000</text>
<line x1="210.1" y1="274.8" x2="217.6" y2="274.8" stroke="#000" stroke-width="2.3"/>
<line x1="202.6" y1="196.0" x2="217.6" y2="196.0" stroke="#000" stroke-width="2.3"/>
<text transform="translate(88.37,211.40) scale(1,1.06)">8000</text>
<line x1="210.1" y1="117.2" x2="217.6" y2="117.2" stroke="#000" stroke-width="2.3"/>
<line x1="202.6" y1="38.5" x2="217.6" y2="38.5" stroke="#000" stroke-width="2.3"/>
<text transform="translate(62.52,53.90) scale(1,1.06)">10000</text>
<line x1="234.7" y1="826.0" x2="234.7" y2="832.5" stroke="#000" stroke-width="2.3"/>
<line x1="354.5" y1="826.0" x2="354.5" y2="841.0" stroke="#000" stroke-width="2.3"/>
<text transform="translate(354.50,891.5) scale(1,1.06)" text-anchor="middle">400</text>
<line x1="474.3" y1="826.0" x2="474.3" y2="832.5" stroke="#000" stroke-width="2.3"/>
<line x1="594.1" y1="826.0" x2="594.1" y2="841.0" stroke="#000" stroke-width="2.3"/>
<text transform="translate(594.10,891.5) scale(1,1.06)" text-anchor="middle">800</text>
<line x1="713.9" y1="826.0" x2="713.9" y2="832.5" stroke="#000" stroke-width="2.3"/>
<line x1="833.7" y1="826.0" x2="833.7" y2="841.0" stroke="#000" stroke-width="2.3"/>
<text transform="translate(833.70,891.5) scale(1,1.06)" text-anchor="middle">1200</text>
<line x1="953.5" y1="826.0" x2="953.5" y2="832.5" stroke="#000" stroke-width="2.3"/>
<line x1="1073.3" y1="826.0" x2="1073.3" y2="841.0" stroke="#000" stroke-width="2.3"/>
<text transform="translate(1073.30,891.5) scale(1,1.06)" text-anchor="middle">1600</text>
<line x1="1193.1" y1="826.0" x2="1193.1" y2="832.5" stroke="#000" stroke-width="2.3"/>
<line x1="1485.1" y1="38.5" x2="2463.0" y2="38.5" stroke="#000" stroke-width="2.3"/>
<line x1="2461.5" y1="38.5" x2="2461.5" y2="826.0" stroke="#000" stroke-width="3.2"/>
<line x1="1485.1" y1="826.0" x2="2463.0" y2="826.0" stroke="#000" stroke-width="3.2"/>
<line x1="1486.6" y1="37.0" x2="1486.6" y2="827.5" stroke="#000" stroke-width="2.4"/>
<line x1="1471.6" y1="826.0" x2="1486.6" y2="826.0" stroke="#000" stroke-width="2.3"/>
<text transform="translate(1434.92,841.40) scale(1,1.06)">0</text>
<line x1="1479.1" y1="747.2" x2="1486.6" y2="747.2" stroke="#000" stroke-width="2.3"/>
<line x1="1471.6" y1="668.5" x2="1486.6" y2="668.5" stroke="#000" stroke-width="2.3"/>
<text transform="translate(1357.37,683.90) scale(1,1.06)">2000</text>
<line x1="1479.1" y1="589.8" x2="1486.6" y2="589.8" stroke="#000" stroke-width="2.3"/>
<line x1="1471.6" y1="511.0" x2="1486.6" y2="511.0" stroke="#000" stroke-width="2.3"/>
<text transform="translate(1357.37,526.40) scale(1,1.06)">4000</text>
<line x1="1479.1" y1="432.2" x2="1486.6" y2="432.2" stroke="#000" stroke-width="2.3"/>
<line x1="1471.6" y1="353.5" x2="1486.6" y2="353.5" stroke="#000" stroke-width="2.3"/>
<text transform="translate(1357.37,368.90) scale(1,1.06)">6000</text>
<line x1="1479.1" y1="274.8" x2="1486.6" y2="274.8" stroke="#000" stroke-width="2.3"/>
<line x1="1471.6" y1="196.0" x2="1486.6" y2="196.0" stroke="#000" stroke-width="2.3"/>
<text transform="translate(1357.37,211.40) scale(1,1.06)">8000</text>
<line x1="1479.1" y1="117.2" x2="1486.6" y2="117.2" stroke="#000" stroke-width="2.3"/>
<line x1="1471.6" y1="38.5" x2="1486.6" y2="38.5" stroke="#000" stroke-width="2.3"/>
<text transform="translate(1331.52,53.90) scale(1,1.06)">10000</text>
<line x1="1499.0" y1="826.0" x2="1499.0" y2="832.5" stroke="#000" stroke-width="2.3"/>
<line x1="1627.5" y1="826.0" x2="1627.5" y2="841.0" stroke="#000" stroke-width="2.3"/>
<text transform="translate(1627.50,891.5) scale(1,1.06)" text-anchor="middle">400</text>
<line x1="1756.0" y1="826.0" x2="1756.0" y2="832.5" stroke="#000" stroke-width="2.3"/>
<line x1="1884.5" y1="826.0" x2="1884.5" y2="841.0" stroke="#000" stroke-width="2.3"/>
<text transform="translate(1884.50,891.5) scale(1,1.06)" text-anchor="middle">800</text>
<line x1="2013.0" y1="826.0" x2="2013.0" y2="832.5" stroke="#000" stroke-width="2.3"/>
<line x1="2141.5" y1="826.0" x2="2141.5" y2="841.0" stroke="#000" stroke-width="2.3"/>
<text transform="translate(2141.50,891.5) scale(1,1.06)" text-anchor="middle">1200</text>
<line x1="2270.0" y1="826.0" x2="2270.0" y2="832.5" stroke="#000" stroke-width="2.3"/>
<line x1="2398.5" y1="826.0" x2="2398.5" y2="841.0" stroke="#000" stroke-width="2.3"/>
<text transform="translate(2398.50,891.5) scale(1,1.06)" text-anchor="middle">1600</text>
<text transform="translate(52,583.5) rotate(-90)">Intensity (a.u.)</text>
<text transform="translate(1320.4,581.9) rotate(-90)">Intensity (a.u.)</text>
<text transform="translate(504.51,956.70) scale(0.9971,1.0000)" font-size="51.7">Raman shift (cm</text>
<text transform="translate(848.89,935.50) scale(1.0919,1.0000)" font-size="37">&#8722;</text>
<text transform="translate(873.33,934.70) scale(0.6148,1.0000)" font-size="36.5">1</text>
<text transform="translate(889.04,956.70) scale(0.9338,1.0000)" font-size="51.7">)</text>
<text transform="translate(1774.01,956.50) scale(0.9971,1.0000)" font-size="51.7">Raman shift (cm</text>
<text transform="translate(2118.39,935.50) scale(1.0919,1.0000)" font-size="37">&#8722;</text>
<text transform="translate(2142.83,934.70) scale(0.6148,1.0000)" font-size="36.5">1</text>
<text transform="translate(2158.54,956.50) scale(0.9338,1.0000)" font-size="51.7">)</text>
<text transform="translate(236.17,114.80) scale(1.0437,1.0000)" font-size="66">(a)</text>
<text transform="translate(1498.90,114.80) scale(1.0357,1.0000)" font-size="66">(b)</text>
<text transform="translate(660.23,98.70) scale(0.9937,1.0300)" font-size="51.2">Ball</text>
<text transform="translate(1922.08,102.50) scale(1.0042,1.0300)" font-size="52.5">Disc</text>
<text transform="translate(533.05,322.80) scale(0.9531,1.0600)" font-size="52.5">671</text>
<text transform="translate(624.45,322.80) scale(0.9942,1.0300)" font-size="51.5">cm</text>
<text transform="translate(687.22,300.88) scale(0.9641,1.0000)" font-size="37">&#8722;</text>
<text transform="translate(710.28,300.30) scale(0.6615,1.0000)" font-size="36.5">1</text>
<text transform="translate(927.60,278.00) scale(0.9747,1.0600)" font-size="52.5">1370</text>
<text transform="translate(1042.90,278.00) scale(0.9676,1.0300)" font-size="51.5">cm</text>
<text transform="translate(1102.30,255.88) scale(1.0861,1.0000)" font-size="37">&#8722;</text>
<text transform="translate(1128.28,255.70) scale(0.6926,1.0000)" font-size="36.5">1</text>
<text transform="translate(1806.38,232.20) scale(0.9408,1.0600)" font-size="52.5">671</text>
<text transform="translate(1897.39,232.20) scale(0.9726,1.0300)" font-size="51.5">cm</text>
<text transform="translate(1959.14,210.48) scale(1.0106,1.0000)" font-size="37">&#8722;</text>
<text transform="translate(1983.18,209.90) scale(0.6304,1.0000)" font-size="36.5">1</text>
<text transform="translate(2234.26,187.80) scale(0.9849,1.0600)" font-size="52.5">1370</text>
<text transform="translate(2349.72,187.80) scale(0.9609,1.0300)" font-size="51.5">cm</text>
<text transform="translate(2411.39,165.88) scale(1.0338,1.0000)" font-size="37">&#8722;</text>
<text transform="translate(2435.53,165.20) scale(0.5525,1.0000)" font-size="36.5">1</text>
<text transform="translate(989.37,548.00) scale(1.0040,1.0300)" font-size="53.2">0.0</text>
<text transform="translate(1070.06,548.00) scale(0.8999,1.0000)" font-size="53.2">V</text>
<text transform="translate(1038.74,628.30) scale(1.0030,1.0300)" font-size="53.2" fill="#ff0000">+1.0</text>
<text transform="translate(1148.95,628.30) scale(0.9241,1.0000)" font-size="53.2" fill="#ff0000">V</text>
<text transform="translate(1024.26,776.30) scale(0.9964,1.0300)" font-size="53.2" fill="#1f3cff">&#8722;1.0</text>
<text transform="translate(1135.46,776.30) scale(0.8973,1.0000)" font-size="53.2" fill="#1f3cff">V</text>
<text transform="translate(2344.03,635.00) scale(0.9704,1.0300)" font-size="53.2">0.0</text>
<text transform="translate(2422.75,635.00) scale(0.9161,1.0000)" font-size="53.2">V</text>
<text transform="translate(2300.72,759.40) scale(1.0117,1.0300)" font-size="53.2" fill="#ff0000">+1.0</text>
<text transform="translate(2411.65,759.40) scale(0.9268,1.0000)" font-size="53.2" fill="#ff0000">V</text>
<text transform="translate(2139.44,808.50) scale(1.0030,1.0300)" font-size="53.2" fill="#1f3cff">&#8722;1.0</text>
<text transform="translate(2249.25,808.50) scale(0.9188,1.0000)" font-size="53.2" fill="#1f3cff">V</text>
<line x1="1044" y1="555.5" x2="1009" y2="629.5" stroke="#000" stroke-width="2.4"/>
<polygon points="1004.4,639.3 1007.5,618.7 1018.4,623.8" fill="#000"/>
</g>
</svg>
</body></html>
